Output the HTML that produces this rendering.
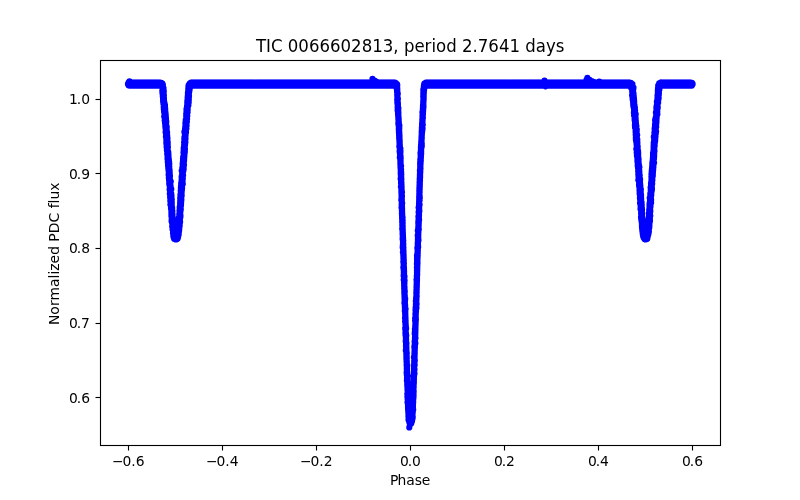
<!DOCTYPE html>
<html lang="en">
<head>
<meta charset="utf-8">
<title>TIC 0066602813, period 2.7641 days</title>
<style>
html,body{margin:0;padding:0;background:#fff;}
body{width:800px;height:500px;overflow:hidden;}
svg{display:block;}
text{font-family:"DejaVu Sans","Liberation Sans",sans-serif;font-size:13.889px;fill:#000;}
.title{font-size:17.2px;}
</style>
</head>
<body>
<svg width="800" height="500" viewBox="0 0 800 500">
<rect width="800" height="500" fill="#fff"/>
<path fill="none" stroke="#00f" stroke-width="6.2" stroke-linecap="round" d="M128 83.9h0M128 84.3h0M128.5 83h0M128.5 85.2h0M128.7 82.4h0M129.3 82.6h0M129.3 85.6h0M129.5 81.3h0M130.3 82.5h0M130.3 85.7h0M131.3 82.5h0M131.3 85.7h0M132.3 82.5h0M132.3 85.7h0M133.3 82.5h0M133.3 85.7h0M134.3 82.5h0M134.3 85.7h0M135.3 82.5h0M135.3 85.7h0M136.3 82.5h0M136.3 85.7h0M137.3 82.5h0M137.3 85.7h0M138.3 82.5h0M138.3 85.7h0M139.3 82.5h0M139.3 85.7h0M140.3 82.5h0M140.3 85.7h0M141.3 82.5h0M141.3 85.7h0M142.3 82.5h0M142.3 85.7h0M143.3 82.5h0M143.3 85.7h0M144.3 82.5h0M144.3 85.7h0M145.3 82.5h0M145.3 85.7h0M146.3 82.5h0M146.3 85.7h0M147.3 82.5h0M147.3 85.7h0M148.3 82.5h0M148.3 85.7h0M149.3 82.5h0M149.3 85.7h0M150.3 82.5h0M150.3 85.7h0M151.3 82.5h0M151.3 85.7h0M152.3 82.5h0M152.3 85.7h0M153.3 82.5h0M153.3 85.7h0M154.3 82.5h0M154.3 85.7h0M155.3 82.5h0M155.3 85.7h0M156.3 82.5h0M156.3 85.7h0M157.3 82.5h0M157.3 85.7h0M158.3 82.5h0M158.3 85.7h0M159.3 82.5h0M159.3 85.7h0M160.3 85.8h0M160.4 82.5h0M161.2 86.2h0M161.3 82.9h0M161.6 86.4h0M161.7 83.1h0M161.8 86.6h0M161.9 83.4h0M161.9 84.1h0M162.1 86.1h0M162.2 86.3h0M162.3 85.6h0M162.3 84.3h0M162.3 90.7h0M162.4 85.2h0M162.4 86.9h0M162.4 83.7h0M162.4 92.4h0M162.5 92.8h0M162.5 87.7h0M162.5 89.9h0M162.5 86.8h0M162.6 87.4h0M162.6 94.1h0M162.6 87.3h0M162.7 89.1h0M162.7 89.2h0M162.7 88.5h0M162.7 89.6h0M162.7 88.1h0M162.7 92.3h0M162.8 96.6h0M162.8 95.2h0M162.8 88.3h0M162.8 92h0M162.9 95.5h0M162.9 96h0M162.9 91.5h0M162.9 84.9h0M162.9 93.7h0M163 90.7h0M163 97.9h0M163 87.5h0M163.1 100h0M163.1 101.6h0M163.1 99.6h0M163.1 98.2h0M163.1 91.2h0M163.1 98.3h0M163.1 91.3h0M163.1 89.7h0M163.1 92.7h0M163.1 99h0M163.1 96.8h0M163.2 99.1h0M163.2 90h0M163.2 93.2h0M163.3 93.2h0M163.3 94.4h0M163.3 101.5h0M163.3 88.9h0M163.3 99.4h0M163.3 93.6h0M163.4 95.7h0M163.4 92h0M163.4 100.6h0M163.4 88.8h0M163.4 94.8h0M163.4 103.7h0M163.4 90.5h0M163.4 94h0M163.5 88.1h0M163.5 96.4h0M163.5 99.9h0M163.5 94.5h0M163.5 96.1h0M163.6 102.8h0M163.6 97.6h0M163.6 102.7h0M163.6 101.1h0M163.6 94.7h0M163.6 97.3h0M163.6 97.3h0M163.7 102h0M163.7 101.2h0M163.7 107.1h0M163.7 103.3h0M163.7 90.5h0M163.8 96.7h0M163.8 106.4h0M163.8 91.7h0M163.8 109.1h0M163.8 106.8h0M163.9 95.2h0M163.9 98h0M163.9 97.8h0M163.9 98.7h0M163.9 107.7h0M163.9 102.2h0M164 100.9h0M164 107.9h0M164 100.4h0M164 110.4h0M164 100.4h0M164 109.9h0M164 98.9h0M164.1 111.8h0M164.1 105.7h0M164.1 104.9h0M164.2 104.2h0M164.2 102.4h0M164.2 116.6h0M164.2 104h0M164.2 103.5h0M164.2 108.9h0M164.3 113.1h0M164.3 109.5h0M164.3 106.3h0M164.3 102.3h0M164.3 106h0M164.3 110.1h0M164.3 104h0M164.4 112.4h0M164.4 105.2h0M164.5 109.8h0M164.5 104.4h0M164.5 103h0M164.5 113h0M164.5 112.2h0M164.6 105.9h0M164.6 111.6h0M164.6 106.7h0M164.7 107.1h0M164.7 118.3h0M164.7 110.7h0M164.7 117.9h0M164.7 120.6h0M164.7 104.8h0M164.7 107.9h0M164.8 115.7h0M164.8 116.8h0M164.8 108.3h0M164.8 113.4h0M164.9 117.3h0M164.9 118.7h0M164.9 111.1h0M164.9 120.2h0M165 105.1h0M165 105.5h0M165 115.2h0M165 107.4h0M165 109.6h0M165 111.5h0M165 123h0M165 116.4h0M165.1 109.1h0M165.1 112h0M165.1 118.6h0M165.1 108.2h0M165.2 110.7h0M165.2 117.9h0M165.2 123.7h0M165.2 108.7h0M165.3 111h0M165.3 126.6h0M165.3 125.7h0M165.3 113.5h0M165.4 114.9h0M165.4 112.9h0M165.4 115.6h0M165.4 117.1h0M165.4 114.3h0M165.4 123.3h0M165.4 124.6h0M165.4 114h0M165.5 119.4h0M165.5 125.4h0M165.5 115.9h0M165.5 114.3h0M165.5 112.8h0M165.5 128h0M165.6 128.4h0M165.6 123.1h0M165.6 116h0M165.6 113.8h0M165.6 117.5h0M165.6 120.3h0M165.6 132.2h0M165.6 121.6h0M165.6 125.9h0M165.7 122.3h0M165.7 122.6h0M165.7 114.6h0M165.7 119.1h0M165.7 131.8h0M165.7 121.1h0M165.7 115.1h0M165.7 125.1h0M165.8 118.3h0M165.8 126.6h0M165.8 127.8h0M165.8 129.8h0M165.8 116.3h0M165.8 125.7h0M165.8 132.6h0M165.8 126.3h0M165.8 130.2h0M165.9 119.5h0M165.9 128.6h0M165.9 130.8h0M165.9 122.8h0M165.9 120.8h0M165.9 121.1h0M165.9 117.5h0M165.9 119.9h0M165.9 136.5h0M166 119.8h0M166 133h0M166 132.5h0M166 119h0M166 129.8h0M166 123.5h0M166 130.7h0M166 131.1h0M166 127.6h0M166 126.5h0M166 131.5h0M166 121.9h0M166.1 125.1h0M166.1 135.1h0M166.1 133.3h0M166.1 124.2h0M166.1 124.9h0M166.1 134.9h0M166.1 123.8h0M166.1 134.2h0M166.2 122.2h0M166.2 121.7h0M166.2 134.6h0M166.2 124.3h0M166.2 128.6h0M166.3 139h0M166.3 134.8h0M166.3 142.7h0M166.3 121.5h0M166.3 138.4h0M166.3 134.3h0M166.3 129.1h0M166.4 136.3h0M166.4 133h0M166.4 129.5h0M166.4 140.3h0M166.4 128.1h0M166.4 139.5h0M166.4 141.2h0M166.5 127h0M166.5 144.6h0M166.5 137.4h0M166.5 143.8h0M166.5 131.3h0M166.6 131h0M166.6 139.5h0M166.6 147h0M166.6 129.3h0M166.6 129.1h0M166.6 141.4h0M166.7 143.1h0M166.7 126.9h0M166.7 130.3h0M166.7 127.4h0M166.7 141.9h0M166.7 131.8h0M166.8 133.8h0M166.8 137.7h0M166.8 140.9h0M166.8 145h0M166.8 140h0M166.8 145.5h0M166.8 147.1h0M166.8 137.9h0M166.9 137.6h0M166.9 149.8h0M166.9 135.8h0M166.9 133.9h0M166.9 150.2h0M166.9 142.9h0M166.9 137.1h0M166.9 146.6h0M166.9 135.5h0M167 138.5h0M167 145.8h0M167 148.2h0M167 133.5h0M167 135.8h0M167 150.7h0M167.1 148.7h0M167.1 144.2h0M167.1 138.8h0M167.1 132.3h0M167.1 148.4h0M167.1 136.2h0M167.1 146.3h0M167.1 139.8h0M167.1 150.6h0M167.1 151h0M167.2 153.9h0M167.2 136.7h0M167.2 142.7h0M167.2 148h0M167.2 142.4h0M167.2 149.3h0M167.2 145.8h0M167.2 135.3h0M167.3 140.3h0M167.3 137h0M167.3 151.7h0M167.3 141.4h0M167.3 149.4h0M167.3 148.7h0M167.3 144.6h0M167.3 142h0M167.3 152.5h0M167.3 140.7h0M167.4 145h0M167.4 152.6h0M167.4 140.6h0M167.4 147.8h0M167.4 143.5h0M167.4 150.3h0M167.4 139h0M167.5 158.7h0M167.5 149.1h0M167.5 154.7h0M167.5 138.3h0M167.5 156.3h0M167.5 151h0M167.5 146.7h0M167.5 151.5h0M167.6 149h0M167.6 158.1h0M167.6 143.9h0M167.6 147.6h0M167.6 157.7h0M167.7 142.2h0M167.7 154.1h0M167.7 149.8h0M167.7 145.4h0M167.7 153.1h0M167.7 159.5h0M167.7 143.3h0M167.7 144.2h0M167.8 162.2h0M167.8 146.2h0M167.8 161.8h0M167.8 160.6h0M167.8 158.2h0M167.8 155.4h0M167.9 155.1h0M167.9 147.3h0M167.9 162.6h0M167.9 157h0M167.9 152.3h0M167.9 151.3h0M168 155h0M168 161.1h0M168 153.5h0M168 164.5h0M168 163.1h0M168.1 160.5h0M168.1 166.2h0M168.1 163.5h0M168.1 157.8h0M168.1 161.3h0M168.1 153.1h0M168.1 153.9h0M168.1 164.9h0M168.1 155.3h0M168.2 159.3h0M168.2 156.9h0M168.2 159h0M168.2 151.9h0M168.2 163.6h0M168.3 155.8h0M168.3 167.4h0M168.3 168.6h0M168.3 154.3h0M168.3 157.6h0M168.3 166.7h0M168.3 156.6h0M168.3 152.2h0M168.4 169.1h0M168.4 153.5h0M168.4 156.1h0M168.4 156.6h0M168.4 154.5h0M168.4 163.4h0M168.4 167.7h0M168.5 165.5h0M168.5 155.7h0M168.5 162.1h0M168.5 157.4h0M168.5 165.8h0M168.5 159.7h0M168.5 170.3h0M168.6 164.3h0M168.6 159h0M168.6 174.8h0M168.7 161.4h0M168.7 161.2h0M168.7 158.4h0M168.7 162.6h0M168.7 160.1h0M168.7 165.3h0M168.7 166.2h0M168.7 164.6h0M168.8 177.8h0M168.8 170.7h0M168.8 172.6h0M168.8 167h0M168.8 169h0M168.8 159.7h0M168.8 164.2h0M168.8 164.9h0M168.8 173.3h0M168.8 168.2h0M168.8 165.7h0M168.9 160.2h0M168.9 171.6h0M168.9 171.3h0M168.9 169.8h0M168.9 172.8h0M168.9 169.3h0M168.9 173h0M169 169.4h0M169 168.1h0M169 167.4h0M169 172.6h0M169 173.6h0M169 176.3h0M169 178.2h0M169 175.8h0M169 167.1h0M169 178.9h0M169.1 174.1h0M169.1 161.8h0M169.1 175.4h0M169.1 177.1h0M169.1 175h0M169.1 163h0M169.1 180.2h0M169.2 167.7h0M169.2 171.2h0M169.2 179.3h0M169.2 170.8h0M169.2 168.5h0M169.2 182.9h0M169.2 173.9h0M169.2 175.2h0M169.2 174.2h0M169.3 171h0M169.3 166.5h0M169.3 163.8h0M169.3 176.1h0M169.3 171.8h0M169.3 184.5h0M169.4 170.6h0M169.4 178.7h0M169.4 177.4h0M169.4 177.3h0M169.4 178.8h0M169.4 176.7h0M169.4 178.1h0M169.5 181.3h0M169.5 175h0M169.5 172.2h0M169.5 174.5h0M169.5 169.7h0M169.6 170.1h0M169.6 178.5h0M169.6 179.8h0M169.6 189.5h0M169.6 183.8h0M169.7 172.2h0M169.7 173.4h0M169.7 185.6h0M169.7 185.2h0M169.7 179.8h0M169.7 183h0M169.7 184.6h0M169.7 177.7h0M169.7 177h0M169.8 184.1h0M169.8 182.6h0M169.8 190.3h0M169.8 180.4h0M169.8 193.8h0M169.8 181.3h0M169.8 182.2h0M169.8 180.9h0M169.8 187h0M169.9 183.5h0M169.9 185.8h0M169.9 179.3h0M169.9 180.9h0M169.9 187.4h0M169.9 187.3h0M169.9 186.5h0M169.9 176.6h0M169.9 186.9h0M170 180.7h0M170 194.5h0M170 189.7h0M170 180.2h0M170 175.9h0M170 193.4h0M170.1 182.6h0M170.1 182h0M170.1 197.3h0M170.1 183.3h0M170.1 188.3h0M170.2 185h0M170.2 195.7h0M170.2 185.5h0M170.2 192h0M170.2 181.9h0M170.2 191.7h0M170.2 186.5h0M170.2 192.9h0M170.3 188.7h0M170.3 191.6h0M170.3 183.7h0M170.3 198.6h0M170.3 189h0M170.3 196.5h0M170.3 184.1h0M170.3 200.9h0M170.3 195.5h0M170.3 192.6h0M170.4 188.8h0M170.4 194.2h0M170.4 190.5h0M170.4 186.1h0M170.4 189.8h0M170.4 191.5h0M170.4 204.6h0M170.4 194.7h0M170.4 185h0M170.5 199.9h0M170.5 194.6h0M170.5 196.1h0M170.5 188.5h0M170.5 200.5h0M170.5 191h0M170.6 186.2h0M170.6 200h0M170.6 197h0M170.6 192.4h0M170.6 192.2h0M170.7 187.7h0M170.7 199h0M170.7 191h0M170.7 187.7h0M170.7 203.7h0M170.7 197.7h0M170.7 193.2h0M170.7 191.2h0M170.7 202.6h0M170.7 204.8h0M170.8 200.4h0M170.8 200.8h0M170.8 190.5h0M170.8 181.6h0M170.8 200.1h0M170.8 188.1h0M170.9 205.8h0M170.9 194.9h0M170.9 197.5h0M170.9 206.6h0M170.9 189.9h0M171 208.5h0M171 204.2h0M171 193h0M171 204.9h0M171 203h0M171.1 199.3h0M171.1 198.4h0M171.1 195.4h0M171.1 196.1h0M171.1 205.4h0M171.1 194h0M171.2 201.7h0M171.2 198.1h0M171.2 203.2h0M171.2 201.9h0M171.2 199.4h0M171.3 198.8h0M171.3 208h0M171.3 210.1h0M171.3 205.6h0M171.3 208.8h0M171.3 196.3h0M171.3 193.8h0M171.3 189.2h0M171.3 198.2h0M171.4 211.9h0M171.4 216h0M171.4 211h0M171.4 213h0M171.4 208.3h0M171.4 212.2h0M171.4 214.2h0M171.4 210.4h0M171.4 203.2h0M171.5 215h0M171.5 196.8h0M171.5 202.2h0M171.5 195.6h0M171.5 201.2h0M171.5 204.1h0M171.5 214.5h0M171.5 214.5h0M171.5 213.7h0M171.5 197.7h0M171.5 205.9h0M171.6 205.2h0M171.6 209.5h0M171.6 216.5h0M171.6 206.4h0M171.6 216.5h0M171.6 213.6h0M171.6 220.5h0M171.6 201.5h0M171.6 221.4h0M171.7 204.6h0M171.7 207.7h0M171.7 211.9h0M171.7 203.7h0M171.7 215.7h0M171.7 211.7h0M171.7 219.4h0M171.7 206.9h0M171.7 201.7h0M171.7 217.5h0M171.7 209.6h0M171.7 202.8h0M171.7 215.2h0M171.8 217.3h0M171.8 199.5h0M171.8 217.9h0M171.8 217.4h0M171.8 212.6h0M171.8 210.1h0M171.8 202.4h0M171.8 206.1h0M171.9 207.3h0M171.9 218.8h0M171.9 216.9h0M171.9 216h0M171.9 207.3h0M171.9 206.8h0M171.9 213.2h0M172 212.5h0M172 218.5h0M172 208.5h0M172 209.3h0M172.1 210.4h0M172.1 221.3h0M172.1 207.6h0M172.1 215.7h0M172.1 220.7h0M172.1 211.2h0M172.1 218.5h0M172.1 223h0M172.1 214.7h0M172.1 209h0M172.1 213h0M172.2 221.8h0M172.2 210.8h0M172.2 213.4h0M172.2 209.1h0M172.2 226.4h0M172.3 224.1h0M172.4 222.5h0M172.4 226.9h0M172.4 222h0M172.4 223.3h0M172.4 211.3h0M172.5 215.2h0M172.5 218.2h0M172.5 217.8h0M172.5 214h0M172.5 221.7h0M172.5 229.2h0M172.5 216.7h0M172.6 221h0M172.6 226h0M172.6 222h0M172.6 218.8h0M172.6 223.8h0M172.6 225.3h0M172.6 219.8h0M172.6 227.9h0M172.7 220.1h0M172.7 219.5h0M172.7 224.9h0M172.7 220.3h0M172.8 223.4h0M172.8 219.1h0M172.8 225.9h0M172.9 229.7h0M172.9 224.5h0M172.9 225.5h0M172.9 222.3h0M172.9 227.3h0M172.9 222.9h0M172.9 230.1h0M172.9 228.5h0M172.9 228.3h0M172.9 224.8h0M173 228h0M173 220.1h0M173 229.5h0M173 226.4h0M173 233.3h0M173 225.2h0M173.1 225.7h0M173.1 231.5h0M173.1 230.5h0M173.1 231.8h0M173.2 228.8h0M173.2 227.7h0M173.2 230.9h0M173.3 224.4h0M173.3 226.8h0M173.3 236h0M173.3 223.6h0M173.3 228.7h0M173.3 231.9h0M173.3 224h0M173.4 231.3h0M173.5 230.7h0M173.5 236.4h0M173.5 232.5h0M173.6 237.2h0M173.6 227.6h0M173.6 227.2h0M173.6 235.6h0M173.6 232.6h0M173.6 233.7h0M173.7 235.2h0M173.7 229.1h0M173.7 232.7h0M173.8 233h0M173.8 233.4h0M173.9 237.7h0M173.9 232.8h0M173.9 234.3h0M173.9 234.6h0M173.9 230h0M174 233.9h0M174 231.2h0M174 231.9h0M174 230.3h0M174.1 235.5h0M174.1 235h0M174.1 238h0M174.1 234.2h0M174.1 238.8h0M174.3 234.6h0M174.4 238.3h0M174.5 236.7h0M174.8 238.9h0M174.9 235.7h0M175.1 235.8h0M175.1 235.1h0M175.3 239.1h0M175.5 236h0M175.6 239.3h0M175.9 239.4h0M176 236.1h0M176.2 235.9h0M176.4 239.2h0M176.7 239.1h0M176.7 235.8h0M177.1 235.6h0M177.1 238.9h0M177.1 237.8h0M177.4 236.6h0M177.4 232.2h0M177.5 235.2h0M177.5 238.3h0M177.5 235.6h0M177.6 231.5h0M177.6 234.2h0M177.6 234.9h0M177.6 234.8h0M177.7 234.5h0M177.7 238.6h0M177.8 233.8h0M177.8 237.4h0M177.9 229.4h0M177.9 233.8h0M178 229.8h0M178 233.1h0M178 235.9h0M178 237.2h0M178 233.5h0M178.1 231.6h0M178.1 228.2h0M178.1 235.1h0M178.1 230.9h0M178.2 236.4h0M178.3 228.8h0M178.3 232.5h0M178.4 233.6h0M178.4 233h0M178.4 226.4h0M178.4 228.6h0M178.5 229h0M178.5 230.6h0M178.5 232.3h0M178.5 227.3h0M178.5 227.6h0M178.5 230.2h0M178.5 232.6h0M178.5 229.4h0M178.6 231.8h0M178.7 222.6h0M178.7 229.2h0M178.7 225.9h0M178.7 217.9h0M178.7 234.4h0M178.9 231.2h0M178.9 231.9h0M178.9 230.6h0M178.9 228h0M178.9 221.4h0M178.9 225.5h0M179 225.4h0M179 219.5h0M179 229.9h0M179 227.7h0M179 225h0M179.1 221.9h0M179.1 220.3h0M179.1 224h0M179.2 225.2h0M179.2 227.2h0M179.2 224.4h0M179.2 223.4h0M179.2 230.3h0M179.2 226.2h0M179.2 223.1h0M179.3 216.5h0M179.3 222.8h0M179.3 218.4h0M179.3 228.3h0M179.3 214.6h0M179.4 222.3h0M179.4 219.1h0M179.4 220.8h0M179.4 222.4h0M179.4 226.7h0M179.4 226.8h0M179.4 213.6h0M179.4 227.2h0M179.4 218.7h0M179.4 217.2h0M179.4 220.1h0M179.4 224.4h0M179.4 224.9h0M179.4 217.9h0M179.5 216.9h0M179.5 210.6h0M179.5 224.6h0M179.6 220.4h0M179.6 223.8h0M179.6 219.2h0M179.6 221.2h0M179.6 211.4h0M179.7 211.6h0M179.7 207.2h0M179.7 219.8h0M179.7 225.8h0M179.7 209.9h0M179.7 212.1h0M179.7 212.8h0M179.7 213.1h0M179.7 213.8h0M179.7 208h0M179.7 212.3h0M179.7 221.3h0M179.8 211.8h0M179.8 217.7h0M179.8 218.7h0M179.8 214.7h0M179.8 210.4h0M179.8 223.5h0M179.8 219.6h0M179.8 209.5h0M179.8 215.5h0M179.9 216.2h0M179.9 208.8h0M179.9 220.8h0M179.9 216.7h0M179.9 216h0M179.9 223.1h0M179.9 213.6h0M180 215.7h0M180 207.5h0M180.1 212.2h0M180.1 214.3h0M180.1 221.7h0M180.1 222.1h0M180.1 208.3h0M180.1 214.4h0M180.1 210.2h0M180.1 206.4h0M180.1 202.8h0M180.1 217.6h0M180.1 204.3h0M180.1 218.2h0M180.2 213.3h0M180.2 200.3h0M180.2 211.1h0M180.2 208.2h0M180.2 202.4h0M180.2 204.2h0M180.2 204.7h0M180.2 212.8h0M180.2 213.9h0M180.2 198h0M180.3 198.2h0M180.3 203.2h0M180.3 202.1h0M180.3 207.2h0M180.3 202.8h0M180.3 200.4h0M180.3 205.3h0M180.3 208.1h0M180.3 209.2h0M180.3 215.3h0M180.4 215h0M180.4 217.1h0M180.4 199.2h0M180.4 200.1h0M180.4 195.2h0M180.4 201.3h0M180.4 204.7h0M180.4 208.7h0M180.4 207.5h0M180.5 205.5h0M180.5 216h0M180.5 194.3h0M180.5 210.9h0M180.5 211.2h0M180.5 209.9h0M180.5 198.4h0M180.5 203.6h0M180.5 196.3h0M180.6 206.7h0M180.6 196.4h0M180.6 204.1h0M180.6 205.1h0M180.6 205.8h0M180.6 199.5h0M180.6 206.2h0M180.6 201.8h0M180.6 209.6h0M180.6 203.8h0M180.6 196h0M180.7 195.3h0M180.7 206.8h0M180.7 199.8h0M180.7 190.8h0M180.7 202.4h0M180.7 193.6h0M180.7 199h0M180.8 193h0M180.8 201h0M180.8 200.8h0M180.8 194.8h0M180.8 209.3h0M180.8 194.5h0M180.8 201.4h0M180.9 191.7h0M180.9 199.1h0M180.9 197.5h0M180.9 188.3h0M180.9 206.1h0M180.9 197.2h0M180.9 187.5h0M180.9 203.2h0M180.9 188.1h0M180.9 191.3h0M181 205.5h0M181 186h0M181 197.5h0M181 188.5h0M181 186.9h0M181 190.5h0M181.1 185.5h0M181.1 201.6h0M181.1 198.6h0M181.1 189.5h0M181.1 203.5h0M181.1 194h0M181.1 191.9h0M181.1 191.9h0M181.1 196h0M181.2 196.8h0M181.2 198.1h0M181.2 183.1h0M181.2 191.1h0M181.2 183.8h0M181.2 197.3h0M181.2 194.8h0M181.3 183.6h0M181.3 189h0M181.3 200.9h0M181.3 184.7h0M181.3 186.1h0M181.3 186.4h0M181.4 193.5h0M181.4 199.6h0M181.4 196.8h0M181.4 195.4h0M181.4 190.8h0M181.4 189.8h0M181.4 189.8h0M181.4 191.7h0M181.5 190.3h0M181.5 186.3h0M181.5 194h0M181.5 187.2h0M181.5 182.7h0M181.6 185.1h0M181.6 188.6h0M181.6 180.8h0M181.6 193h0M181.6 187.3h0M181.6 183.3h0M181.6 192.4h0M181.6 179.9h0M181.6 193.3h0M181.6 177.1h0M181.6 185.6h0M181.6 188.9h0M181.6 192.8h0M181.6 192.4h0M181.7 176.5h0M181.7 170.8h0M181.7 195.6h0M181.7 179.3h0M181.8 175.9h0M181.8 189.2h0M181.8 180.4h0M181.8 182.4h0M181.8 178.9h0M181.9 181.3h0M181.9 179.6h0M181.9 190.2h0M181.9 186.9h0M181.9 179.8h0M181.9 187.7h0M181.9 184.3h0M181.9 181.1h0M182 176.1h0M182 180.1h0M182 182h0M182.1 177.3h0M182.1 185.1h0M182.1 182.1h0M182.1 188h0M182.1 183.5h0M182.2 173.3h0M182.2 173.5h0M182.2 172.3h0M182.2 177.6h0M182.2 176.4h0M182.2 173h0M182.2 172h0M182.2 180.4h0M182.2 171.7h0M182.2 180.9h0M182.3 174.1h0M182.3 179.2h0M182.3 167.9h0M182.3 172.5h0M182.3 181.6h0M182.4 173.8h0M182.4 176.7h0M182.4 184.8h0M182.4 182.3h0M182.4 173.1h0M182.4 184.4h0M182.5 174.8h0M182.5 182.9h0M182.5 178h0M182.5 174.4h0M182.5 170.1h0M182.5 170.1h0M182.6 164.3h0M182.6 169.6h0M182.6 168.2h0M182.6 178.3h0M182.6 177.9h0M182.6 181.7h0M182.7 177.5h0M182.7 172.8h0M182.7 167.4h0M182.7 177h0M182.7 175.6h0M182.7 174h0M182.8 179h0M182.8 171.6h0M182.8 184.1h0M182.8 175.1h0M182.8 171.3h0M182.8 166h0M182.8 162.5h0M182.8 166.9h0M182.8 169.6h0M182.8 167.5h0M182.8 178.4h0M182.9 161.7h0M182.9 166.4h0M182.9 172.1h0M182.9 165.6h0M182.9 174.3h0M182.9 170.4h0M182.9 174.9h0M182.9 175.7h0M182.9 166.5h0M183 158.8h0M183 165.1h0M183 161.2h0M183 164.1h0M183 160.9h0M183 169.4h0M183.1 170.8h0M183.1 161.4h0M183.1 175.3h0M183.1 163.9h0M183.2 158.4h0M183.2 163h0M183.2 168.4h0M183.2 156.9h0M183.2 162.8h0M183.2 159.7h0M183.2 171.2h0M183.2 159.7h0M183.2 168.4h0M183.2 162h0M183.3 169.3h0M183.3 158.1h0M183.3 158.6h0M183.3 156.9h0M183.3 164.4h0M183.3 165.8h0M183.3 160.1h0M183.3 163.4h0M183.3 163.7h0M183.3 168.9h0M183.4 160.2h0M183.4 167.2h0M183.4 170.4h0M183.4 166.2h0M183.4 167.6h0M183.4 160.4h0M183.5 159.4h0M183.5 163.5h0M183.5 152.5h0M183.5 152.8h0M183.5 163.2h0M183.5 157.6h0M183.5 152.4h0M183.5 164.9h0M183.6 156.4h0M183.7 150.4h0M183.7 162.2h0M183.7 155.3h0M183.7 166.8h0M183.7 150.1h0M183.7 165.3h0M183.7 155.7h0M183.7 148h0M183.7 169h0M183.7 151.3h0M183.8 154.6h0M183.8 155.6h0M183.8 154.9h0M183.8 152.2h0M183.8 162.4h0M183.8 159.2h0M183.8 149.5h0M183.9 160.9h0M183.9 161.7h0M183.9 154.1h0M183.9 147.5h0M183.9 151.7h0M184 153.8h0M184 164.8h0M184 156.6h0M184.1 158.1h0M184.1 160.5h0M184.1 150.6h0M184.1 145h0M184.1 147.7h0M184.1 147.2h0M184.1 153.1h0M184.1 153.7h0M184.1 142.4h0M184.1 157.8h0M184.1 157.3h0M184.1 154.1h0M184.2 144.5h0M184.2 156h0M184.2 145.3h0M184.2 145.4h0M184.2 157.4h0M184.2 158.8h0M184.2 142.1h0M184.2 149h0M184.3 139.2h0M184.3 142.7h0M184.3 147h0M184.3 154.7h0M184.3 149.3h0M184.3 155.2h0M184.3 151.7h0M184.4 149.3h0M184.4 137.3h0M184.4 156.1h0M184.4 131.9h0M184.4 148.5h0M184.4 154.5h0M184.4 153.2h0M184.4 146.2h0M184.5 147.4h0M184.5 150h0M184.5 144.1h0M184.6 148.5h0M184.6 142.5h0M184.6 141.8h0M184.6 149.7h0M184.6 145.7h0M184.6 153.4h0M184.6 132.8h0M184.6 146.9h0M184.6 143.5h0M184.6 137.5h0M184.7 140.9h0M184.7 143.3h0M184.7 146.6h0M184.7 148.2h0M184.7 139.7h0M184.7 140.5h0M184.7 139h0M184.7 138.6h0M184.7 150.8h0M184.8 144.8h0M184.8 151.5h0M184.8 136.3h0M184.8 146.4h0M184.8 143h0M184.8 139.4h0M184.8 131.5h0M184.8 140.9h0M184.8 131h0M184.8 143.3h0M184.8 152.1h0M184.8 150.9h0M184.8 141.6h0M184.9 135.6h0M184.9 141.3h0M184.9 133.7h0M184.9 135.3h0M184.9 146.1h0M184.9 137.6h0M185 137.9h0M185 140.5h0M185 141.3h0M185 149h0M185 145.6h0M185 143.8h0M185 144.5h0M185 136.1h0M185 138.2h0M185 131.3h0M185 131.5h0M185 139.8h0M185 129.2h0M185.1 144h0M185.1 130.1h0M185.1 133.2h0M185.2 135.4h0M185.2 134.5h0M185.2 128.2h0M185.2 138.3h0M185.2 140.1h0M185.2 136.7h0M185.2 140.3h0M185.2 136.9h0M185.2 131.7h0M185.3 126.6h0M185.3 136.5h0M185.3 134.2h0M185.3 133.8h0M185.3 132.5h0M185.4 130.6h0M185.4 133.5h0M185.4 134.2h0M185.4 142.2h0M185.4 129.3h0M185.4 136.5h0M185.4 123.7h0M185.4 134.7h0M185.4 123.3h0M185.4 130h0M185.5 127.7h0M185.5 127.3h0M185.5 138.1h0M185.5 135.7h0M185.5 134.9h0M185.5 138.9h0M185.5 133.1h0M185.6 123.8h0M185.6 127.1h0M185.6 135.1h0M185.6 123.1h0M185.6 121.4h0M185.7 120.1h0M185.7 122.9h0M185.7 127h0M185.7 123.3h0M185.8 128.9h0M185.8 125.3h0M185.8 127.2h0M185.8 124.4h0M185.8 129.8h0M185.9 129.6h0M185.9 129.1h0M185.9 122.6h0M185.9 130.4h0M186 132.5h0M186 132.2h0M186 128.5h0M186 131h0M186 126.2h0M186 119.8h0M186.1 126.6h0M186.1 124.9h0M186.2 124h0M186.2 122.1h0M186.2 125h0M186.2 122.6h0M186.2 114h0M186.2 116.2h0M186.2 126.2h0M186.2 121.4h0M186.2 120.9h0M186.3 125.7h0M186.3 119h0M186.3 127.8h0M186.3 117.5h0M186.3 120.2h0M186.3 128.3h0M186.3 118.5h0M186.4 128.5h0M186.4 121.7h0M186.4 117h0M186.4 120.5h0M186.4 124.6h0M186.4 118.1h0M186.4 125.8h0M186.4 116.2h0M186.4 117.8h0M186.5 124.2h0M186.5 113.7h0M186.5 120.7h0M186.5 111.8h0M186.5 113.4h0M186.5 115.1h0M186.5 109.2h0M186.5 117.8h0M186.5 110.9h0M186.5 118.3h0M186.5 112.2h0M186.6 120.9h0M186.6 125.5h0M186.6 117.4h0M186.6 122.2h0M186.6 114.7h0M186.6 119.7h0M186.6 111h0M186.6 117h0M186.6 119.3h0M186.7 111.7h0M186.7 112.8h0M186.7 115.4h0M186.7 112.7h0M186.7 111.4h0M186.8 118.6h0M186.8 110.1h0M186.8 119.4h0M186.8 116.7h0M186.8 115.6h0M186.8 115.4h0M186.8 114.5h0M186.8 114.9h0M186.9 114.3h0M186.9 121.7h0M186.9 113.2h0M186.9 109.5h0M187 106.2h0M187 108.7h0M187 109.1h0M187 107.8h0M187 110.6h0M187 107.5h0M187 116.5h0M187.1 107.4h0M187.1 110.2h0M187.1 111.4h0M187.1 106.3h0M187.1 113h0M187.1 119h0M187.1 113.7h0M187.1 109.2h0M187.2 112.9h0M187.2 106.6h0M187.3 107.2h0M187.3 115.8h0M187.3 103.5h0M187.3 105.7h0M187.3 107h0M187.3 102.2h0M187.3 102.5h0M187.3 107.8h0M187.3 101.7h0M187.4 100.7h0M187.4 108.2h0M187.4 109.8h0M187.4 110.6h0M187.5 105.4h0M187.6 112.2h0M187.6 99.7h0M187.6 108.6h0M187.6 102.6h0M187.6 104.3h0M187.6 104.5h0M187.6 104.6h0M187.6 108.1h0M187.6 101h0M187.6 97.8h0M187.7 109.8h0M187.7 104.1h0M187.7 100.9h0M187.7 98.9h0M187.7 96.9h0M187.8 100.2h0M187.8 100.7h0M187.8 99.4h0M187.8 96h0M187.8 106.7h0M187.9 95h0M187.9 98.7h0M187.9 98.3h0M187.9 103.1h0M187.9 94.7h0M187.9 97.3h0M187.9 92.9h0M188 105h0M188 95.5h0M188 105.3h0M188 103.2h0M188 92.2h0M188.1 93.9h0M188.1 101.3h0M188.1 104h0M188.1 106h0M188.2 95.9h0M188.2 103.7h0M188.2 103.6h0M188.3 89.8h0M188.3 93h0M188.3 88.6h0M188.3 97.6h0M188.3 101.6h0M188.3 93.8h0M188.3 91.5h0M188.3 96.7h0M188.4 90.2h0M188.4 87h0M188.4 93.6h0M188.4 105.2h0M188.4 100.1h0M188.4 98.7h0M188.4 92h0M188.4 98.1h0M188.4 91.9h0M188.5 91h0M188.5 96.8h0M188.5 85.8h0M188.5 92.6h0M188.6 89.9h0M188.6 94.2h0M188.6 99.5h0M188.6 87.9h0M188.6 93.4h0M188.6 94.2h0M188.7 102.4h0M188.7 101.8h0M188.7 97.1h0M188.7 85.1h0M188.7 95.1h0M188.8 96.1h0M188.8 98h0M188.8 99.1h0M188.8 100h0M188.8 94.6h0M188.9 89.5h0M188.9 91h0M189 90.4h0M189 96.4h0M189 92.2h0M189 95.6h0M189 90.5h0M189 89h0M189.1 91.4h0M189.1 92.5h0M189.1 88.3h0M189.2 88.2h0M189.2 86.7h0M189.3 84.6h0M189.3 86.3h0M189.3 87.6h0M189.3 85.4h0M189.3 87.2h0M189.3 89h0M189.4 87.5h0M189.4 90.8h0M189.6 89.4h0M189.7 88.8h0M189.7 88h0M189.7 83.5h0M189.7 84.4h0M189.7 84h0M190 86.9h0M190.1 86.5h0M190.2 83.3h0M190.3 83h0M190.4 86.3h0M190.6 82.8h0M190.8 86.1h0M191 82.6h0M191 85.9h0M192 85.7h0M192 82.5h0M193 85.7h0M193 82.5h0M194 85.7h0M194 82.5h0M195 85.7h0M195 82.5h0M196 85.7h0M196 82.5h0M197 85.7h0M197 82.5h0M198 85.7h0M198 82.5h0M199 85.7h0M199 82.5h0M200 85.7h0M200 82.5h0M201 85.7h0M201 82.5h0M202 85.7h0M202 82.5h0M203 85.7h0M203 82.5h0M204 85.7h0M204 82.5h0M205 85.7h0M205 82.5h0M206 85.7h0M206 82.5h0M207 85.7h0M207 82.5h0M208 85.7h0M208 82.5h0M209 85.7h0M209 82.5h0M210 85.7h0M210 82.5h0M211 85.7h0M211 82.5h0M212 85.7h0M212 82.5h0M213 85.7h0M213 82.5h0M214 85.7h0M214 82.5h0M215 85.7h0M215 82.5h0M216 85.7h0M216 82.5h0M217 85.7h0M217 82.5h0M218 85.7h0M218 82.5h0M219 85.7h0M219 82.5h0M220 85.7h0M220 82.5h0M221 85.7h0M221 82.5h0M222 85.7h0M222 82.5h0M223 85.7h0M223 82.5h0M224 85.7h0M224 82.5h0M225 85.7h0M225 82.5h0M226 85.7h0M226 82.5h0M227 85.7h0M227 82.5h0M228 85.7h0M228 82.5h0M229 85.7h0M229 82.5h0M230 85.7h0M230 82.5h0M231 85.7h0M231 82.5h0M232 85.7h0M232 82.5h0M233 85.7h0M233 82.5h0M234 85.7h0M234 82.5h0M235 85.7h0M235 82.5h0M236 85.7h0M236 82.5h0M237 85.7h0M237 82.5h0M238 85.7h0M238 82.5h0M239 85.7h0M239 82.5h0M240 85.7h0M240 82.5h0M241 85.7h0M241 82.5h0M242 85.7h0M242 82.5h0M243 85.7h0M243 82.5h0M244 85.7h0M244 82.5h0M245 85.7h0M245 82.5h0M246 85.7h0M246 82.5h0M247 85.7h0M247 82.5h0M248 85.7h0M248 82.5h0M249 85.7h0M249 82.5h0M250 85.7h0M250 82.5h0M251 85.7h0M251 82.5h0M252 85.7h0M252 82.5h0M253 85.7h0M253 82.5h0M254 85.7h0M254 82.5h0M255 85.7h0M255 82.5h0M256 85.7h0M256 82.5h0M257 85.7h0M257 82.5h0M258 85.7h0M258 82.5h0M259 85.7h0M259 82.5h0M260 85.7h0M260 82.5h0M261 85.7h0M261 82.5h0M262 85.7h0M262 82.5h0M263 85.7h0M263 82.5h0M264 85.7h0M264 82.5h0M265 85.7h0M265 82.5h0M266 85.7h0M266 82.5h0M267 85.7h0M267 82.5h0M268 85.7h0M268 82.5h0M269 85.7h0M269 82.5h0M270 85.7h0M270 82.5h0M271 85.7h0M271 82.5h0M272 85.7h0M272 82.5h0M273 85.7h0M273 82.5h0M274 85.7h0M274 82.5h0M275 85.7h0M275 82.5h0M276 85.7h0M276 82.5h0M277 85.7h0M277 82.5h0M278 85.7h0M278 82.5h0M279 85.7h0M279 82.5h0M280 85.7h0M280 82.5h0M281 85.7h0M281 82.5h0M282 85.7h0M282 82.5h0M283 85.7h0M283 82.5h0M284 85.7h0M284 82.5h0M285 85.7h0M285 82.5h0M286 85.7h0M286 82.5h0M287 85.7h0M287 82.5h0M288 85.7h0M288 82.5h0M289 85.7h0M289 82.5h0M290 85.7h0M290 82.5h0M291 85.7h0M291 82.5h0M292 85.7h0M292 82.5h0M293 85.7h0M293 82.5h0M294 85.7h0M294 82.5h0M295 85.7h0M295 82.5h0M296 85.7h0M296 82.5h0M297 85.7h0M297 82.5h0M298 85.7h0M298 82.5h0M299 85.7h0M299 82.5h0M300 85.7h0M300 82.5h0M301 85.7h0M301 82.5h0M302 85.7h0M302 82.5h0M303 85.7h0M303 82.5h0M304 85.7h0M304 82.5h0M305 85.7h0M305 82.5h0M306 85.7h0M306 82.5h0M307 85.7h0M307 82.5h0M308 85.7h0M308 82.5h0M309 85.7h0M309 82.5h0M310 85.7h0M310 82.5h0M311 85.7h0M311 82.5h0M312 85.7h0M312 82.5h0M313 85.7h0M313 82.5h0M314 85.7h0M314 82.5h0M315 85.7h0M315 82.5h0M316 85.7h0M316 82.5h0M317 85.7h0M317 82.5h0M318 85.7h0M318 82.5h0M319 85.7h0M319 82.5h0M320 85.7h0M320 82.5h0M321 85.7h0M321 82.5h0M322 85.7h0M322 82.5h0M323 85.7h0M323 82.5h0M324 85.7h0M324 82.5h0M325 85.7h0M325 82.5h0M326 85.7h0M326 82.5h0M327 85.7h0M327 82.5h0M328 85.7h0M328 82.5h0M329 85.7h0M329 82.5h0M330 85.7h0M330 82.5h0M331 85.7h0M331 82.5h0M332 85.7h0M332 82.5h0M333 85.7h0M333 82.5h0M334 85.7h0M334 82.5h0M335 85.7h0M335 82.5h0M336 85.7h0M336 82.5h0M337 85.7h0M337 82.5h0M338 85.7h0M338 82.5h0M339 85.7h0M339 82.5h0M340 85.7h0M340 82.5h0M341 85.7h0M341 82.5h0M342 85.7h0M342 82.5h0M343 85.7h0M343 82.5h0M344 85.7h0M344 82.5h0M345 85.7h0M345 82.5h0M346 85.7h0M346 82.5h0M347 85.7h0M347 82.5h0M348 85.7h0M348 82.5h0M349 85.7h0M349 82.5h0M350 85.7h0M350 82.5h0M351 85.7h0M351 82.5h0M352 85.7h0M352 82.5h0M353 85.7h0M353 82.5h0M354 85.7h0M354 82.5h0M355 85.7h0M355 82.5h0M356 85.7h0M356 82.5h0M357 85.7h0M357 82.5h0M358 85.7h0M358 82.5h0M359 82.5h0M359 85.7h0M360 82.5h0M360 85.7h0M361 82.5h0M361 85.7h0M362 82.5h0M362 85.7h0M363 82.5h0M363 85.7h0M364 82.5h0M364 85.7h0M365 82.5h0M365 85.7h0M366 82.5h0M366 85.7h0M367 82.5h0M367 85.7h0M368 82.5h0M368 85.7h0M369 82.5h0M369 85.7h0M370 82.5h0M370 85.7h0M371 82.5h0M371 85.7h0M372 82.5h0M372 85.7h0M372.5 78.8h0M373 82.5h0M373 85.7h0M374 82.5h0M374 85.7h0M374.6 80.6h0M375 82.5h0M375 85.7h0M376 82.5h0M376 85.7h0M376.2 81.7h0M377 82.5h0M377 85.7h0M378 82.5h0M378 85.7h0M379 82.5h0M379 85.7h0M380 82.5h0M380 85.7h0M381 82.5h0M381 85.7h0M382 82.5h0M382 85.7h0M383 82.5h0M383 85.7h0M384 82.5h0M384 85.7h0M385 82.5h0M385 85.7h0M386 82.5h0M386 85.7h0M387 82.5h0M387 85.7h0M388 82.5h0M388 85.7h0M389 82.5h0M389 85.7h0M390 82.5h0M390 85.7h0M391 82.5h0M391 85.7h0M392 82.5h0M392 85.7h0M393 82.5h0M393 85.7h0M394 82.5h0M394 85.7h0M395 85.9h0M395 82.6h0M395.8 86.4h0M395.8 83.1h0M396.1 83.3h0M396.2 86.6h0M396.3 83.6h0M396.4 86.9h0M396.5 87.3h0M396.6 84h0M396.6 87.5h0M396.7 84.7h0M396.8 88.1h0M396.8 88.5h0M396.8 89.1h0M396.9 85.9h0M396.9 85.6h0M397 86.7h0M397 88.8h0M397 90.1h0M397 86.4h0M397 89.3h0M397 90.5h0M397.1 87.9h0M397.1 88.3h0M397.1 92h0M397.1 84.4h0M397.2 87.6h0M397.2 89.7h0M397.2 99.8h0M397.2 92.8h0M397.2 91.7h0M397.2 89.9h0M397.2 90.9h0M397.2 87.2h0M397.2 91.3h0M397.2 94.8h0M397.3 92.4h0M397.3 93.2h0M397.3 92h0M397.3 93.7h0M397.3 88.7h0M397.3 90.4h0M397.3 102.4h0M397.3 96.8h0M397.3 96.4h0M397.3 93.2h0M397.3 89.4h0M397.3 85.1h0M397.3 95.4h0M397.3 90.7h0M397.4 94.1h0M397.4 94.5h0M397.4 96.8h0M397.4 97.7h0M397.4 92.4h0M397.4 97.3h0M397.4 91.3h0M397.4 101.1h0M397.4 94.7h0M397.4 92.7h0M397.4 93.4h0M397.4 95.3h0M397.4 98.2h0M397.4 95.2h0M397.4 98.8h0M397.4 91.6h0M397.4 101.9h0M397.4 96.3h0M397.4 95.6h0M397.4 98.3h0M397.5 96h0M397.5 98.5h0M397.5 99.7h0M397.5 99.2h0M397.5 97.1h0M397.5 100.1h0M397.5 100.7h0M397.5 94.2h0M397.5 95.9h0M397.5 101.5h0M397.5 97.8h0M397.5 103.1h0M397.5 100.4h0M397.5 100.6h0M397.5 97.5h0M397.6 101.5h0M397.6 104.4h0M397.6 110.3h0M397.6 99.2h0M397.6 107.5h0M397.6 100.2h0M397.6 99.6h0M397.6 102.4h0M397.6 104.1h0M397.6 103.5h0M397.6 102.7h0M397.7 102.8h0M397.7 101.1h0M397.7 105.2h0M397.7 101.8h0M397.7 105.6h0M397.8 104h0M397.8 105.4h0M397.8 110h0M397.8 106.4h0M397.8 93.8h0M397.8 108.1h0M397.8 104.8h0M397.8 108.8h0M397.8 106h0M397.8 106.7h0M397.9 106.3h0M397.9 103.2h0M397.9 106.9h0M397.9 98.8h0M397.9 103.5h0M397.9 107.3h0M397.9 104.3h0M397.9 104.7h0M397.9 108.4h0M397.9 105.2h0M397.9 106h0M398 109.1h0M398 109.5h0M398 111.9h0M398 112.5h0M398 109.9h0M398 110.7h0M398 113.2h0M398 108h0M398 112.8h0M398 114h0M398 107.1h0M398.1 109.2h0M398.1 111.1h0M398.1 109.4h0M398.1 108.7h0M398.1 111.2h0M398.1 111.7h0M398.1 115.6h0M398.2 113.5h0M398.2 112.4h0M398.2 110.3h0M398.2 114.3h0M398.2 113.2h0M398.2 107.5h0M398.2 111.5h0M398.3 117.9h0M398.3 114.7h0M398.3 114h0M398.3 110.8h0M398.3 118.3h0M398.3 114.8h0M398.3 114.3h0M398.3 111.9h0M398.3 123.5h0M398.3 115.5h0M398.3 116.8h0M398.3 116.3h0M398.3 115.3h0M398.4 116.1h0M398.4 119.2h0M398.4 112.8h0M398.4 118.9h0M398.4 117.7h0M398.4 116.4h0M398.4 119.5h0M398.4 115.8h0M398.4 115h0M398.4 113.6h0M398.4 117.3h0M398.4 108.3h0M398.4 117.2h0M398.5 119.9h0M398.5 122h0M398.5 120.5h0M398.5 116.7h0M398.5 117.6h0M398.5 121.1h0M398.5 121.5h0M398.5 124h0M398.5 120.6h0M398.6 118.3h0M398.6 118.7h0M398.6 117.8h0M398.6 124.5h0M398.6 123.6h0M398.6 125.3h0M398.6 122.4h0M398.6 121.1h0M398.6 120.9h0M398.6 119.9h0M398.6 124.8h0M398.6 119.6h0M398.7 120.3h0M398.7 122.7h0M398.7 121.4h0M398.7 123.3h0M398.7 122.4h0M398.7 119.1h0M398.7 124.3h0M398.8 125.1h0M398.8 126.7h0M398.8 121.9h0M398.8 128.8h0M398.8 125.6h0M398.8 126.1h0M398.8 126h0M398.8 126.3h0M398.8 123.9h0M398.8 129.5h0M398.8 126.2h0M398.8 122.8h0M398.8 129.3h0M398.9 127.5h0M398.9 131.1h0M398.9 123.1h0M398.9 130h0M398.9 127.9h0M398.9 126.6h0M398.9 132.1h0M398.9 127.1h0M398.9 128.5h0M399 124.7h0M399 130.4h0M399 132.4h0M399 133.1h0M399 132.9h0M399 128.4h0M399 130.7h0M399 133.6h0M399 127.6h0M399 129h0M399 131.6h0M399.1 130h0M399.1 130.3h0M399.1 137.8h0M399.1 131.6h0M399.1 135.2h0M399.1 128.6h0M399.1 131.1h0M399.2 134.3h0M399.2 129.6h0M399.2 134h0M399.2 135.5h0M399.2 133.1h0M399.2 136.3h0M399.2 134.9h0M399.2 127.3h0M399.2 137.1h0M399.2 130.8h0M399.2 134.2h0M399.2 134.1h0M399.3 135.9h0M399.3 146.5h0M399.3 132.8h0M399.3 131.9h0M399.3 139.6h0M399.3 137.6h0M399.3 132.3h0M399.3 128.1h0M399.3 136.9h0M399.3 135h0M399.3 136h0M399.3 134.6h0M399.4 133.5h0M399.4 125.6h0M399.4 137h0M399.4 136.6h0M399.4 141.1h0M399.4 140.1h0M399.4 138h0M399.4 138.3h0M399.4 140.4h0M399.5 141.9h0M399.5 138.9h0M399.5 139.2h0M399.5 135.5h0M399.5 136.4h0M399.5 139.1h0M399.5 141.7h0M399.5 138.6h0M399.5 138.3h0M399.5 141.1h0M399.5 139.5h0M399.5 140.9h0M399.5 144h0M399.5 142.4h0M399.5 137.4h0M399.5 141.4h0M399.6 142.3h0M399.6 145.6h0M399.6 143.7h0M399.6 142.8h0M399.6 143.2h0M399.6 140.4h0M399.6 143.4h0M399.6 151.6h0M399.6 144.5h0M399.6 143h0M399.6 139.8h0M399.6 146.7h0M399.7 145.2h0M399.7 143.9h0M399.7 144.4h0M399.7 141.8h0M399.7 144.7h0M399.7 145.5h0M399.7 140.6h0M399.7 142.8h0M399.7 146h0M399.8 157.5h0M399.8 147.7h0M399.8 149.6h0M399.8 145.2h0M399.8 146.3h0M399.8 150h0M399.8 144.6h0M399.8 149.2h0M399.8 146.6h0M399.8 151.4h0M399.8 151.1h0M399.8 145.9h0M399.8 147.1h0M399.9 148h0M399.9 149h0M399.9 148.9h0M399.9 150.4h0M399.9 152h0M399.9 153.5h0M399.9 150.3h0M399.9 147.1h0M400 150h0M400 148.4h0M400 154.5h0M400 147.9h0M400 149.5h0M400 147.3h0M400 150.8h0M400 152.5h0M400.1 153.2h0M400.1 152.6h0M400.1 152.3h0M400.1 154.4h0M400.1 156h0M400.1 153.2h0M400.1 154.7h0M400.1 151.8h0M400.1 148.3h0M400.1 154h0M400.2 150.8h0M400.2 157.3h0M400.2 156h0M400.2 155.6h0M400.2 155.2h0M400.2 153.3h0M400.2 155.4h0M400.2 156.6h0M400.2 157.5h0M400.2 158.8h0M400.3 153.8h0M400.3 159.2h0M400.3 156.2h0M400.3 156.8h0M400.3 159.9h0M400.3 159.7h0M400.3 154.7h0M400.3 155.1h0M400.3 158h0M400.3 156.9h0M400.4 160.4h0M400.4 158.2h0M400.4 162.5h0M400.4 159.1h0M400.4 163.7h0M400.4 161.9h0M400.4 160.9h0M400.4 161.5h0M400.4 148.6h0M400.4 164.6h0M400.4 162.7h0M400.4 161.2h0M400.4 159.9h0M400.4 152.7h0M400.4 158.7h0M400.5 151h0M400.5 163h0M400.5 158h0M400.5 161.8h0M400.5 166h0M400.5 159.4h0M400.5 163.1h0M400.5 160.5h0M400.5 167.6h0M400.5 161.4h0M400.5 163.7h0M400.6 160.3h0M400.6 161.2h0M400.6 165h0M400.6 164.4h0M400.6 164.1h0M400.6 162.3h0M400.6 162.7h0M400.6 156.3h0M400.6 164.8h0M400.6 165.6h0M400.6 165.2h0M400.6 168.3h0M400.6 163.5h0M400.6 178.8h0M400.6 164.2h0M400.6 167.2h0M400.7 166.8h0M400.7 167.3h0M400.7 158.3h0M400.7 168.6h0M400.7 169.1h0M400.7 167.5h0M400.7 167.8h0M400.7 166.4h0M400.7 172.7h0M400.7 168.1h0M400.7 170.6h0M400.7 174.1h0M400.8 170h0M400.8 170.4h0M400.8 165.4h0M400.8 168.8h0M400.8 169.1h0M400.8 166.1h0M400.8 166.6h0M400.8 171.1h0M400.8 169.8h0M400.8 168.1h0M400.8 171.9h0M400.8 171.5h0M400.9 176.2h0M400.9 171.9h0M400.9 186.8h0M400.9 171.6h0M400.9 174.2h0M400.9 172.2h0M400.9 173.4h0M400.9 169.5h0M400.9 173.1h0M400.9 175.9h0M400.9 174.8h0M400.9 171h0M400.9 174.9h0M401 170.2h0M401 175.5h0M401 176.7h0M401 175.2h0M401 174.5h0M401 177.6h0M401 170.6h0M401 172.7h0M401 173h0M401 178.4h0M401 176.3h0M401 175.6h0M401 177.9h0M401 173.5h0M401 177.1h0M401.1 182.4h0M401.1 177h0M401.1 181.6h0M401.1 182h0M401.1 183.1h0M401.1 181.3h0M401.1 179.9h0M401.1 173.9h0M401.1 177.6h0M401.1 179.9h0M401.1 180.7h0M401.1 183.6h0M401.1 166h0M401.1 175.9h0M401.1 179.2h0M401.1 169.5h0M401.2 181.2h0M401.2 179.7h0M401.2 184.3h0M401.2 180.7h0M401.2 181.5h0M401.2 180.4h0M401.2 176.5h0M401.2 185.3h0M401.2 185.9h0M401.2 177.9h0M401.2 181.7h0M401.2 187.3h0M401.2 180.3h0M401.2 172.4h0M401.2 182.6h0M401.2 178.2h0M401.3 186.3h0M401.3 184h0M401.3 179.4h0M401.3 183.9h0M401.3 182.6h0M401.3 178.8h0M401.3 174.4h0M401.3 188h0M401.3 184.7h0M401.3 183.5h0M401.3 199.9h0M401.3 184.9h0M401.4 187.4h0M401.4 185.6h0M401.4 189.5h0M401.4 185.4h0M401.4 190.4h0M401.4 182.2h0M401.4 183.1h0M401.4 191.4h0M401.4 188.7h0M401.4 192.7h0M401.4 179.1h0M401.4 187.1h0M401.4 189.9h0M401.4 189.2h0M401.4 184.2h0M401.5 194h0M401.5 193.5h0M401.5 187.5h0M401.5 186.3h0M401.5 190.6h0M401.5 184.5h0M401.5 188.4h0M401.5 191.1h0M401.5 193.2h0M401.5 190.7h0M401.5 207.5h0M401.5 187.8h0M401.5 185.9h0M401.5 195.5h0M401.5 198.3h0M401.5 188.7h0M401.6 186.6h0M401.6 194.3h0M401.6 189.8h0M401.6 191.5h0M401.6 188.1h0M401.6 195h0M401.6 197.9h0M401.6 192.6h0M401.6 194.8h0M401.6 191.1h0M401.6 195.1h0M401.6 189.1h0M401.6 192h0M401.6 193.4h0M401.6 189.3h0M401.6 192.3h0M401.6 197.1h0M401.6 193.1h0M401.6 201h0M401.6 196.8h0M401.7 194.4h0M401.7 190.1h0M401.7 199.5h0M401.7 191.8h0M401.7 197.7h0M401.7 199h0M401.7 196.3h0M401.7 200.4h0M401.7 197.5h0M401.7 195.5h0M401.7 200.7h0M401.7 196h0M401.7 193.9h0M401.7 194.7h0M401.7 196.7h0M401.7 205.5h0M401.7 203.9h0M401.7 198.6h0M401.7 204.9h0M401.7 196.2h0M401.8 198.2h0M401.8 200.8h0M401.8 197.3h0M401.8 199.5h0M401.8 198.8h0M401.8 203.6h0M401.8 197.1h0M401.8 201.1h0M401.8 201.5h0M401.8 200.3h0M401.8 202.7h0M401.8 202.7h0M401.8 203.5h0M401.8 206.3h0M401.8 203.2h0M401.8 205.1h0M401.8 199.9h0M401.8 202.4h0M401.8 204.3h0M401.8 199.1h0M401.8 205.9h0M401.9 208.4h0M401.9 201.9h0M401.9 208.8h0M401.9 205h0M401.9 202.1h0M401.9 201.6h0M401.9 207.2h0M401.9 205.3h0M401.9 210.3h0M401.9 208.5h0M401.9 202.1h0M401.9 209.5h0M401.9 210.9h0M401.9 206.3h0M401.9 213.4h0M401.9 208.1h0M401.9 210.3h0M401.9 209.2h0M401.9 211.1h0M401.9 203.8h0M401.9 206.8h0M401.9 204.3h0M402 206.8h0M402 207.4h0M402 207.9h0M402 214.7h0M402 214h0M402 211.4h0M402 211.2h0M402 205.9h0M402 196h0M402 207h0M402 192.3h0M402 204.6h0M402 210.8h0M402 212.7h0M402 212.3h0M402 216h0M402 214.4h0M402 214.6h0M402 208.3h0M402 210h0M402 211.8h0M402.1 209.9h0M402.1 215.3h0M402.1 213.2h0M402.1 209h0M402.1 218h0M402.1 212.3h0M402.1 216.8h0M402.1 211.8h0M402.1 209.3h0M402.1 216.2h0M402.1 211.6h0M402.1 216.6h0M402.1 215h0M402.1 218.4h0M402.1 212.6h0M402.1 213.2h0M402.1 218.6h0M402.2 216.2h0M402.2 213.4h0M402.2 215.9h0M402.2 215.6h0M402.2 213.8h0M402.2 228.8h0M402.2 221.4h0M402.2 214.4h0M402.2 217.2h0M402.2 217.5h0M402.2 203h0M402.2 217.8h0M402.2 219.1h0M402.2 219.9h0M402.2 221.9h0M402.2 219.9h0M402.3 224.3h0M402.3 215.3h0M402.3 222.2h0M402.3 219.2h0M402.3 219.7h0M402.3 217.1h0M402.3 225.7h0M402.3 222.7h0M402.3 221.2h0M402.3 218.1h0M402.4 218.7h0M402.4 223.9h0M402.4 219.4h0M402.4 223.7h0M402.4 221.7h0M402.4 224.5h0M402.4 223.4h0M402.4 226.7h0M402.4 222.6h0M402.4 223.5h0M402.4 224.2h0M402.4 220.1h0M402.4 220.6h0M402.4 227.6h0M402.4 225.9h0M402.4 220.9h0M402.5 227.9h0M402.5 229.4h0M402.5 225.2h0M402.5 226.9h0M402.5 221.3h0M402.5 227.2h0M402.5 224.8h0M402.5 223h0M402.5 226.4h0M402.5 227.4h0M402.5 230.4h0M402.5 222.2h0M402.5 225h0M402.5 229.1h0M402.6 230.1h0M402.6 228.4h0M402.6 226.6h0M402.6 227.9h0M402.6 217.6h0M402.6 230.7h0M402.6 233h0M402.6 229h0M402.6 234h0M402.6 239h0M402.6 232h0M402.6 220.3h0M402.6 225.5h0M402.6 234.2h0M402.6 234.6h0M402.7 231.6h0M402.7 225.7h0M402.7 235.1h0M402.7 232.6h0M402.7 232.6h0M402.7 226.3h0M402.7 228.6h0M402.7 229.8h0M402.7 231.1h0M402.7 220.6h0M402.7 229.4h0M402.7 228.1h0M402.7 223h0M402.7 230.5h0M402.7 232.3h0M402.7 247.4h0M402.7 237.5h0M402.7 231.1h0M402.7 231.9h0M402.7 237.2h0M402.8 232.3h0M402.8 233.5h0M402.8 230.1h0M402.8 234.6h0M402.8 235.8h0M402.8 233.4h0M402.8 236.3h0M402.8 236.4h0M402.8 233.8h0M402.8 231.4h0M402.8 239.1h0M402.8 238h0M402.8 245.7h0M402.9 239.6h0M402.9 235h0M402.9 239.8h0M402.9 235.8h0M402.9 233.1h0M402.9 236.8h0M402.9 235.4h0M402.9 235.6h0M402.9 238.6h0M402.9 237.1h0M402.9 252.3h0M402.9 237.5h0M402.9 239.3h0M402.9 240.4h0M402.9 234.3h0M402.9 238.2h0M403 237.8h0M403 238.7h0M403 241.4h0M403 241.9h0M403 240.1h0M403 243.6h0M403 244h0M403 244.7h0M403 240.9h0M403 241.3h0M403 243.1h0M403 236.7h0M403 240.5h0M403 242.2h0M403.1 239.7h0M403.1 238.2h0M403.1 242.3h0M403.1 241.8h0M403.1 244.3h0M403.1 244.5h0M403.1 241.2h0M403.1 245.2h0M403.1 242.8h0M403.1 249.5h0M403.1 246.3h0M403.1 246.4h0M403.1 248.2h0M403.1 242.6h0M403.2 244.4h0M403.2 245.3h0M403.2 245.6h0M403.2 247.1h0M403.2 245.8h0M403.2 246.6h0M403.2 248h0M403.2 248.7h0M403.2 243.1h0M403.2 251h0M403.2 248.9h0M403.2 248.2h0M403.2 251.6h0M403.2 243.4h0M403.2 246.7h0M403.2 247h0M403.3 245h0M403.3 253.1h0M403.3 261.8h0M403.3 243.8h0M403.3 253.6h0M403.3 249.5h0M403.3 250.7h0M403.3 252.8h0M403.3 250h0M403.3 255.2h0M403.3 250.6h0M403.3 267.5h0M403.3 249.9h0M403.3 250.4h0M403.3 240.8h0M403.3 249.2h0M403.3 248.6h0M403.3 251.8h0M403.3 254.7h0M403.4 252.1h0M403.4 251.5h0M403.4 257.2h0M403.4 267.8h0M403.4 255.8h0M403.4 254.4h0M403.4 247.5h0M403.4 247.9h0M403.4 250.1h0M403.4 253h0M403.4 258.3h0M403.4 251.8h0M403.4 254.1h0M403.4 256.3h0M403.4 255.4h0M403.4 253.8h0M403.4 257.1h0M403.5 257.5h0M403.5 259.1h0M403.5 257.5h0M403.5 250.9h0M403.5 258.7h0M403.5 253.3h0M403.5 254.6h0M403.5 255.5h0M403.5 258.9h0M403.5 252.7h0M403.5 259.3h0M403.5 259.9h0M403.5 256.1h0M403.5 253.7h0M403.6 257.9h0M403.6 254.9h0M403.6 260.7h0M403.6 259.5h0M403.6 256.8h0M403.6 261.1h0M403.6 255.9h0M403.6 260.2h0M403.6 257.8h0M403.6 261.6h0M403.6 262.1h0M403.6 265.2h0M403.6 263.1h0M403.6 261.3h0M403.6 258.8h0M403.6 256.5h0M403.6 263.5h0M403.6 262.4h0M403.6 260.6h0M403.6 275.8h0M403.7 261.8h0M403.7 258.1h0M403.7 264.6h0M403.7 265.9h0M403.7 264.3h0M403.7 266.4h0M403.7 279.8h0M403.7 262.6h0M403.7 263.8h0M403.7 264.3h0M403.7 264.7h0M403.7 265.5h0M403.7 270.3h0M403.7 261.1h0M403.7 259.8h0M403.7 265.5h0M403.7 263.1h0M403.7 269.9h0M403.8 262.5h0M403.8 260.3h0M403.8 268.2h0M403.8 272.4h0M403.8 279.3h0M403.8 269.2h0M403.8 266.3h0M403.8 266.7h0M403.8 269.6h0M403.8 273.9h0M403.8 263.9h0M403.8 266.9h0M403.8 265.9h0M403.8 274.2h0M403.8 265h0M403.9 267.1h0M403.9 263.3h0M403.9 266.7h0M403.9 274.8h0M403.9 272.7h0M403.9 270.8h0M403.9 270.6h0M403.9 271.5h0M403.9 276.4h0M403.9 271.9h0M403.9 269h0M403.9 273.5h0M403.9 267.9h0M403.9 275.5h0M403.9 268.7h0M403.9 273.2h0M403.9 275.9h0M403.9 267.5h0M403.9 276.8h0M403.9 269.4h0M404 274.3h0M404 271.1h0M404 268.5h0M404 272.8h0M404 271.7h0M404 272.2h0M404 278.3h0M404 269.8h0M404 270.2h0M404 268.2h0M404 273.9h0M404 279.1h0M404 273.4h0M404 274.6h0M404 276.7h0M404 275.2h0M404.1 271.1h0M404.1 280.8h0M404.1 271.5h0M404.1 281h0M404.1 275.3h0M404.1 277h0M404.1 282.7h0M404.1 277.8h0M404.1 281.4h0M404.1 279.5h0M404.1 272.9h0M404.1 277.7h0M404.1 283.5h0M404.1 277.4h0M404.1 278.8h0M404.1 282.3h0M404.1 275h0M404.1 279h0M404.1 285.8h0M404.2 281.9h0M404.2 278.5h0M404.2 283h0M404.2 280.2h0M404.2 285.2h0M404.2 287.5h0M404.2 280.3h0M404.2 284.5h0M404.2 277.1h0M404.2 278.1h0M404.2 283h0M404.2 281.4h0M404.2 288.4h0M404.2 279.8h0M404.2 284.4h0M404.2 283.3h0M404.2 284.3h0M404.2 286.2h0M404.2 288h0M404.2 285.8h0M404.3 285.5h0M404.3 282h0M404.3 289.2h0M404.3 287.1h0M404.3 285.6h0M404.3 282.2h0M404.3 284h0M404.3 284.7h0M404.3 286.4h0M404.3 290.6h0M404.3 290h0M404.3 291.9h0M404.3 285h0M404.3 281.1h0M404.3 288.3h0M404.3 292.2h0M404.3 286.8h0M404.4 286.5h0M404.4 283.7h0M404.4 282.5h0M404.4 289.6h0M404.4 293.8h0M404.4 288.6h0M404.4 294.6h0M404.4 293.2h0M404.4 303.1h0M404.4 289.3h0M404.4 277.4h0M404.4 288.6h0M404.4 291.1h0M404.4 287.5h0M404.5 291h0M404.5 290.2h0M404.5 287.8h0M404.5 287.1h0M404.5 295.8h0M404.5 289h0M404.5 297.6h0M404.5 293.5h0M404.5 289.9h0M404.5 296.2h0M404.5 276.3h0M404.5 295.5h0M404.5 302.9h0M404.5 292.8h0M404.5 294.1h0M404.6 298h0M404.6 293.9h0M404.6 295.4h0M404.6 290.2h0M404.6 293.4h0M404.6 290.6h0M404.6 294.4h0M404.6 295.1h0M404.6 294.5h0M404.6 292.3h0M404.6 295.1h0M404.6 292.6h0M404.6 280.6h0M404.6 296.9h0M404.6 291.8h0M404.6 299.4h0M404.6 296.8h0M404.6 291.3h0M404.6 298.2h0M404.6 301.5h0M404.6 301.2h0M404.6 297.2h0M404.6 292.9h0M404.6 298.3h0M404.7 299.2h0M404.7 298.9h0M404.7 300.2h0M404.7 302.7h0M404.7 300.2h0M404.7 296.1h0M404.7 298.8h0M404.8 296.6h0M404.8 301.8h0M404.8 295.9h0M404.8 299.3h0M404.8 302.4h0M404.8 310.9h0M404.8 301.8h0M404.8 299.9h0M404.8 306.4h0M404.8 291.4h0M404.8 300.6h0M404.8 297.3h0M404.8 303.6h0M404.8 297.8h0M404.8 305.1h0M404.9 305.9h0M404.9 304.4h0M404.9 303.9h0M404.9 303.8h0M404.9 302.5h0M404.9 302.1h0M404.9 305.5h0M404.9 300.5h0M404.9 303.5h0M404.9 301.5h0M404.9 304.9h0M404.9 308.3h0M404.9 306.5h0M405 300.9h0M405 307.1h0M405 318.3h0M405 307.9h0M405 304.6h0M405 304.2h0M405 310.8h0M405 305.9h0M405 311.1h0M405 309.5h0M405 307.7h0M405.1 306.8h0M405.1 307h0M405.1 306.2h0M405.1 307.5h0M405.1 321.4h0M405.1 313.5h0M405.1 308.1h0M405.1 304.5h0M405.1 299.9h0M405.1 309.8h0M405.1 305.5h0M405.1 308.7h0M405.1 312.3h0M405.1 308.6h0M405.1 309.1h0M405.1 309.4h0M405.1 310.1h0M405.2 307.3h0M405.2 298.6h0M405.2 312.1h0M405.2 310.3h0M405.2 314.2h0M405.2 310.6h0M405.2 311.9h0M405.2 316.6h0M405.2 312.8h0M405.2 328h0M405.2 311.6h0M405.2 316.3h0M405.2 314.5h0M405.2 313.1h0M405.2 315.9h0M405.2 309.9h0M405.2 312.9h0M405.3 329.8h0M405.3 314.7h0M405.3 311.4h0M405.3 315.7h0M405.3 315.5h0M405.3 315.4h0M405.3 314h0M405.3 319h0M405.3 319.3h0M405.3 319.9h0M405.3 316.9h0M405.3 311.7h0M405.3 312.7h0M405.3 313.7h0M405.3 313.4h0M405.3 315.1h0M405.3 314.9h0M405.4 317.8h0M405.4 321.7h0M405.4 318.5h0M405.4 320.7h0M405.4 317.1h0M405.4 321.1h0M405.4 317.3h0M405.4 319h0M405.4 322.3h0M405.4 316.2h0M405.4 324h0M405.4 321.2h0M405.4 316.7h0M405.4 314.3h0M405.4 317.4h0M405.4 321.7h0M405.4 324.2h0M405.4 332.9h0M405.5 320.2h0M405.5 322.6h0M405.5 322.6h0M405.5 318.7h0M405.5 334.9h0M405.5 321.4h0M405.5 323h0M405.5 318.3h0M405.5 319.8h0M405.5 317.7h0M405.5 323.5h0M405.5 319.3h0M405.5 320.2h0M405.6 322.1h0M405.6 326.1h0M405.6 323.5h0M405.6 309.1h0M405.6 325.3h0M405.6 325.5h0M405.6 324.3h0M405.6 327.2h0M405.6 323.1h0M405.6 325.1h0M405.6 320.7h0M405.6 324.7h0M405.6 325h0M405.6 326.8h0M405.6 327.4h0M405.6 324.6h0M405.6 326.9h0M405.7 323.9h0M405.7 329.9h0M405.7 329.1h0M405.7 327.3h0M405.7 333h0M405.7 331h0M405.7 332.4h0M405.7 331.9h0M405.7 326.3h0M405.7 325.8h0M405.7 331.5h0M405.7 329.5h0M405.7 330.4h0M405.7 327.8h0M405.7 341.3h0M405.7 334h0M405.7 326.6h0M405.7 328.5h0M405.7 332.7h0M405.7 328.7h0M405.7 331.4h0M405.7 335.2h0M405.7 331.1h0M405.7 331.7h0M405.7 330.3h0M405.8 332.8h0M405.8 325.8h0M405.8 334.3h0M405.8 332.2h0M405.8 330.4h0M405.8 329.1h0M405.8 330.5h0M405.8 336.6h0M405.8 334.5h0M405.8 333.4h0M405.8 336.3h0M405.8 350.4h0M405.8 329.2h0M405.8 334.3h0M405.9 337.9h0M405.9 337.4h0M405.9 334.6h0M405.9 336.8h0M405.9 337.1h0M405.9 335.3h0M405.9 335.9h0M405.9 339.4h0M405.9 337.4h0M405.9 340.6h0M405.9 336.1h0M405.9 338.7h0M405.9 333.3h0M405.9 335.8h0M405.9 342.2h0M405.9 341.5h0M405.9 341.1h0M406 339.3h0M406 337.7h0M406 340.6h0M406 333.7h0M406 341.8h0M406 340.8h0M406 340.4h0M406 339h0M406 339.8h0M406 338.1h0M406 338.2h0M406 336.7h0M406 342.5h0M406 345.5h0M406 339h0M406.1 328.4h0M406.1 344.3h0M406.1 339.7h0M406.1 341.8h0M406.1 328.2h0M406.1 338.5h0M406.1 343.8h0M406.1 340.3h0M406.1 342.6h0M406.1 343h0M406.1 347h0M406.1 347.7h0M406.1 347.4h0M406.1 345.1h0M406.2 349.8h0M406.2 343.9h0M406.2 344.8h0M406.2 343.4h0M406.2 347.4h0M406.2 342.1h0M406.2 345.8h0M406.2 346.6h0M406.2 342.9h0M406.2 351.1h0M406.2 344.5h0M406.3 348.4h0M406.3 346.3h0M406.3 353.5h0M406.3 349.3h0M406.3 352.6h0M406.3 352.3h0M406.3 344.2h0M406.3 335.5h0M406.3 344.9h0M406.3 354.2h0M406.3 346.5h0M406.3 345.3h0M406.3 346.1h0M406.3 348.7h0M406.3 351h0M406.3 345.9h0M406.3 349h0M406.3 346.9h0M406.3 348.9h0M406.3 350.1h0M406.4 354.6h0M406.4 352h0M406.4 348.1h0M406.4 351.5h0M406.4 349.9h0M406.4 348.5h0M406.4 350.5h0M406.4 353.4h0M406.4 349.3h0M406.4 350.7h0M406.4 353h0M406.4 347.6h0M406.4 355.1h0M406.4 357.4h0M406.4 356.6h0M406.4 358.9h0M406.4 351.9h0M406.4 354.4h0M406.5 357.7h0M406.5 351.3h0M406.5 356.4h0M406.5 355.9h0M406.5 358.3h0M406.5 354h0M406.5 355.5h0M406.5 353.7h0M406.5 351.7h0M406.5 356.1h0M406.5 359.6h0M406.5 358.9h0M406.5 357.8h0M406.5 361.5h0M406.5 356.8h0M406.5 358.8h0M406.5 343.3h0M406.6 352.7h0M406.6 360h0M406.6 355h0M406.6 360.8h0M406.6 360.3h0M406.6 357h0M406.6 354.3h0M406.6 356.7h0M406.6 359.9h0M406.6 361.2h0M406.6 365.1h0M406.6 359.3h0M406.6 372.6h0M406.6 357.3h0M406.6 361.9h0M406.6 355.5h0M406.7 363.5h0M406.7 355.8h0M406.7 358.5h0M406.7 362.1h0M406.7 360.5h0M406.7 360.3h0M406.7 363h0M406.7 362.6h0M406.7 362.3h0M406.7 363.7h0M406.7 364.8h0M406.8 358.2h0M406.8 363.9h0M406.8 353.1h0M406.8 365.9h0M406.8 374.7h0M406.8 368.5h0M406.8 361.3h0M406.8 367.1h0M406.8 363h0M406.8 364.1h0M406.8 367h0M406.8 361.7h0M406.8 361.1h0M406.8 366.6h0M406.8 363.4h0M406.8 365.4h0M406.8 362.4h0M406.8 365.9h0M406.8 369.3h0M406.9 372.2h0M406.9 366.2h0M406.9 371.5h0M406.9 380.6h0M406.9 370.6h0M406.9 366.2h0M406.9 366.5h0M406.9 369.8h0M406.9 368h0M406.9 364.6h0M406.9 374.3h0M406.9 370.6h0M406.9 365.1h0M406.9 367.3h0M406.9 373.6h0M406.9 367.7h0M406.9 371.2h0M406.9 364h0M406.9 369.7h0M407 371h0M407 371.8h0M407 369.1h0M407 369h0M407 373.9h0M407 368.3h0M407 368.5h0M407 367.4h0M407 370.3h0M407 374.6h0M407 373.2h0M407 370.2h0M407 371.9h0M407 375.8h0M407 375.5h0M407 372.8h0M407 374.9h0M407 377.4h0M407 375h0M407 368.2h0M407.1 379.1h0M407.1 376.7h0M407.1 373h0M407.1 369.3h0M407.1 372.9h0M407.1 380.8h0M407.1 378.7h0M407.1 379.8h0M407.1 372.2h0M407.1 373.7h0M407.1 379.4h0M407.1 371.5h0M407.1 374.2h0M407.2 379.8h0M407.2 382.2h0M407.2 380h0M407.2 377.4h0M407.2 376.2h0M407.2 380.3h0M407.2 377.7h0M407.2 377h0M407.2 376.6h0M407.2 375.5h0M407.2 377.7h0M407.2 384.3h0M407.2 375.8h0M407.2 378.6h0M407.3 380.9h0M407.3 378.3h0M407.3 383.7h0M407.3 383.5h0M407.3 376.9h0M407.3 382h0M407.3 382.6h0M407.3 379.4h0M407.3 380.9h0M407.3 378.1h0M407.3 382.6h0M407.3 384.5h0M407.3 365.3h0M407.3 385.6h0M407.3 381.3h0M407.3 385.9h0M407.3 394.1h0M407.3 383h0M407.4 381.9h0M407.4 385h0M407.4 386.4h0M407.4 378.9h0M407.4 387h0M407.4 383h0M407.4 381.5h0M407.4 393.9h0M407.4 384.3h0M407.4 396.8h0M407.5 381.9h0M407.5 402.3h0M407.5 383.3h0M407.5 388.3h0M407.5 386.5h0M407.5 385.6h0M407.5 387.5h0M407.5 388h0M407.5 389.9h0M407.5 383.6h0M407.5 389.4h0M407.6 385h0M407.6 385.5h0M407.6 384.6h0M407.6 399h0M407.6 388.6h0M407.6 390.3h0M407.6 386.9h0M407.6 376.1h0M407.6 389h0M407.6 391.1h0M407.7 386.4h0M407.7 395h0M407.7 387.5h0M407.7 386.1h0M407.7 392.7h0M407.7 390.5h0M407.7 393.5h0M407.7 392.9h0M407.7 391.3h0M407.7 398.2h0M407.8 391.6h0M407.8 395.4h0M407.8 390.8h0M407.8 387.7h0M407.8 394.2h0M407.8 396.1h0M407.8 395.8h0M407.8 395.5h0M407.8 399h0M407.8 388.6h0M407.8 399.4h0M407.8 393.3h0M407.8 394.7h0M407.8 401.7h0M407.8 389.4h0M407.8 388.2h0M407.8 392.1h0M407.8 388.9h0M407.8 397.4h0M407.8 392h0M407.8 396.6h0M407.8 391.2h0M407.8 390h0M407.8 397.9h0M407.8 393h0M407.8 389.7h0M407.8 396.5h0M407.8 400.3h0M407.8 398.7h0M407.9 393.8h0M407.9 391.9h0M407.9 403.4h0M407.9 401.2h0M407.9 395h0M407.9 397.5h0M407.9 397.7h0M407.9 390.8h0M407.9 395.9h0M407.9 394.6h0M407.9 396.1h0M407.9 400.7h0M407.9 397h0M407.9 392.4h0M407.9 404h0M407.9 399.9h0M408 398.6h0M408 400h0M408 404.7h0M408 402.7h0M408 406.3h0M408 399.8h0M408 404.2h0M408 400.8h0M408 401.4h0M408 407.6h0M408 401.6h0M408 405.7h0M408 399.2h0M408 404.9h0M408.1 402.5h0M408.1 400.6h0M408.1 405h0M408.1 408.9h0M408.1 403.2h0M408.1 407.9h0M408.1 405.5h0M408.1 409.4h0M408.1 408.8h0M408.1 402h0M408.1 404.6h0M408.1 401.5h0M408.1 403.2h0M408.1 407h0M408.1 402.8h0M408.1 405.7h0M408.1 406.9h0M408.1 403.7h0M408.2 406.6h0M408.2 406.5h0M408.2 410.2h0M408.2 411.1h0M408.2 407.7h0M408.2 406.1h0M408.2 408.2h0M408.2 405.3h0M408.2 404h0M408.2 408.3h0M408.3 408.5h0M408.3 410.5h0M408.3 410h0M408.3 398.3h0M408.3 411.3h0M408.3 412.5h0M408.4 409.6h0M408.4 413.4h0M408.4 416h0M408.4 411.8h0M408.5 413.7h0M408.5 414.6h0M408.5 419.8h0M408.5 411.7h0M408.5 410.6h0M408.5 409h0M408.5 417.3h0M408.5 410.8h0M408.5 413h0M408.5 409.4h0M408.6 416.2h0M408.6 415.1h0M408.6 413.4h0M408.6 415.4h0M408.6 410.2h0M408.6 416.6h0M408.6 411.4h0M408.6 414.2h0M408.6 417.9h0M408.6 417.3h0M408.7 418.5h0M408.7 415.2h0M408.7 412h0M408.7 412.8h0M408.7 415.7h0M408.7 418.3h0M408.7 413.8h0M408.7 407.4h0M408.7 420.1h0M408.7 412.3h0M408.8 414.2h0M408.8 416.9h0M408.8 415h0M408.8 417h0M408.8 414.4h0M408.8 415.7h0M408.9 419.1h0M408.9 416.6h0M408.9 419.5h0M409 417.6h0M409 421.1h0M409 418h0M409.1 412.4h0M409.1 420.7h0M409.2 421.4h0M409.2 418.5h0M409.3 427.4h0M409.4 422.4h0M409.4 421.8h0M409.4 422.2h0M409.5 418.9h0M409.5 419.2h0M409.6 419.6h0M409.6 423h0M409.7 420h0M409.7 423.3h0M410 423.6h0M410 420.3h0M410.1 420.6h0M410.3 423.9h0M410.5 424.1h0M410.6 420.8h0M410.8 420.5h0M410.8 423.8h0M411.1 420.2h0M411.2 423.5h0M411.3 423.3h0M411.3 419.8h0M411.4 422.7h0M411.4 422.4h0M411.5 419.1h0M411.5 419.6h0M411.6 422h0M411.7 418.8h0M411.7 421.7h0M411.8 418.4h0M411.9 418.1h0M411.9 421.4h0M412 421h0M412 420.1h0M412.1 417.5h0M412.1 419.8h0M412.1 420.5h0M412.1 415.5h0M412.1 417.1h0M412.1 416.9h0M412.2 419h0M412.2 415.2h0M412.2 418.2h0M412.2 417h0M412.2 417.3h0M412.2 416h0M412.2 416.4h0M412.3 419.4h0M412.3 413h0M412.3 414.4h0M412.3 413.6h0M412.3 415.7h0M412.3 414.1h0M412.3 416.2h0M412.3 414.9h0M412.3 418.5h0M412.3 411h0M412.4 411.6h0M412.4 414.6h0M412.4 414.2h0M412.4 410h0M412.4 413.4h0M412.4 412.3h0M412.4 415.3h0M412.5 413.7h0M412.5 414.9h0M412.5 412.1h0M412.5 409.8h0M412.5 408.4h0M412.6 412.6h0M412.6 410.4h0M412.6 409.2h0M412.6 403.3h0M412.6 413.5h0M412.6 410.3h0M412.7 408.1h0M412.7 410.8h0M412.7 406.9h0M412.7 412.9h0M412.7 408.8h0M412.7 405.5h0M412.7 409h0M412.7 412.2h0M412.7 411.5h0M412.7 410.6h0M412.7 416.5h0M412.7 417.7h0M412.8 409.4h0M412.8 411.7h0M412.8 408h0M412.8 407.3h0M412.8 407.8h0M412.8 411.2h0M412.8 406.4h0M412.8 391.4h0M412.9 407.5h0M412.9 405h0M412.9 403.6h0M412.9 405.3h0M412.9 404.1h0M412.9 402.8h0M412.9 406h0M412.9 403.3h0M412.9 401.3h0M412.9 403.7h0M412.9 404.4h0M412.9 407.8h0M412.9 400.7h0M412.9 405.2h0M412.9 402.5h0M412.9 408.7h0M412.9 405.8h0M412.9 404.8h0M412.9 400.6h0M413 399.5h0M413 404.1h0M413 406.6h0M413 407h0M413 400h0M413 402h0M413 399.2h0M413 406.2h0M413 404.5h0M413 402.3h0M413.1 397.5h0M413.1 398.9h0M413.1 396.2h0M413.1 397h0M413.1 403.1h0M413.1 400.7h0M413.1 397.8h0M413.1 401.8h0M413.1 392.2h0M413.1 399.7h0M413.1 394.4h0M413.1 401.6h0M413.1 395.1h0M413.1 398h0M413.1 401.4h0M413.1 396.2h0M413.1 396.4h0M413.1 394.9h0M413.1 392.5h0M413.1 394.6h0M413.1 393h0M413.1 393.7h0M413.1 400.1h0M413.1 394.2h0M413.1 390.9h0M413.1 384.1h0M413.2 398.4h0M413.2 397h0M413.2 398.6h0M413.2 409.7h0M413.2 402.6h0M413.2 397.2h0M413.2 395.7h0M413.2 391.8h0M413.2 388.9h0M413.2 390.6h0M413.2 399.3h0M413.2 400.9h0M413.2 391.2h0M413.2 392.7h0M413.2 398.1h0M413.3 394.2h0M413.3 387.8h0M413.3 390.1h0M413.3 395.6h0M413.3 398.9h0M413.3 391.7h0M413.3 393.4h0M413.3 393.4h0M413.3 386.8h0M413.3 389.7h0M413.3 382.7h0M413.3 393.7h0M413.3 396.6h0M413.3 389.8h0M413.3 395.3h0M413.3 389h0M413.3 389.4h0M413.3 388.6h0M413.3 385.6h0M413.3 390.1h0M413.3 392.1h0M413.3 388.1h0M413.4 385.2h0M413.4 384.6h0M413.4 385h0M413.4 387.2h0M413.4 389.5h0M413.4 387.8h0M413.4 376h0M413.4 390.5h0M413.5 383.5h0M413.5 386.4h0M413.5 388.5h0M413.5 387.5h0M413.5 386h0M413.5 397.4h0M413.5 385.3h0M413.6 383.3h0M413.6 382.9h0M413.6 392.9h0M413.6 385.8h0M413.6 386.9h0M413.6 381.6h0M413.6 386.2h0M413.6 395.4h0M413.6 385.1h0M413.6 388.1h0M413.6 384.2h0M413.6 384.6h0M413.6 379.8h0M413.7 381h0M413.7 382.5h0M413.7 391h0M413.7 381.4h0M413.7 378.8h0M413.7 380.5h0M413.7 386.5h0M413.7 382.1h0M413.7 379.4h0M413.7 383h0M413.7 378.6h0M413.7 376.9h0M413.7 383.4h0M413.7 379.5h0M413.7 375.2h0M413.8 383.8h0M413.8 381.3h0M413.8 374.8h0M413.8 377.6h0M413.8 378.1h0M413.8 381h0M413.8 373.8h0M413.8 374.2h0M413.8 376.6h0M413.8 375.6h0M413.8 379.9h0M413.8 377.5h0M413.8 380.1h0M413.8 377.7h0M413.8 380.7h0M413.8 372.9h0M413.8 375.7h0M413.9 377h0M413.9 378.7h0M413.9 374.5h0M413.9 374.4h0M413.9 382.1h0M413.9 374.9h0M413.9 381.8h0M413.9 380h0M413.9 374.1h0M413.9 377.2h0M413.9 378.2h0M413.9 372.4h0M413.9 376.1h0M413.9 357.2h0M413.9 378.9h0M413.9 373.2h0M414 372.7h0M414 371.1h0M414 368.5h0M414 367.4h0M414 370.9h0M414 370.1h0M414 366.5h0M414 371.7h0M414 368.2h0M414 376.5h0M414 366.9h0M414 371.4h0M414 372h0M414.1 364.9h0M414.1 369.9h0M414.1 369.7h0M414.1 375.5h0M414.1 369.3h0M414.1 370.5h0M414.1 370.5h0M414.1 373.7h0M414.1 367.7h0M414.1 373h0M414.1 369h0M414.1 371.8h0M414.1 365.3h0M414.1 372.1h0M414.1 368.6h0M414.1 366.2h0M414.2 368.1h0M414.2 363.7h0M414.2 367.5h0M414.2 370.1h0M414.2 371.3h0M414.2 367.7h0M414.2 366.7h0M414.2 365.8h0M414.2 367h0M414.2 364.4h0M414.2 364h0M414.2 366.2h0M414.2 360.6h0M414.2 362.5h0M414.2 362.2h0M414.3 362.5h0M414.3 364.2h0M414.3 365.7h0M414.3 362.1h0M414.3 365.3h0M414.3 363.2h0M414.3 364.6h0M414.3 360.8h0M414.3 361.5h0M414.3 361.3h0M414.3 360.2h0M414.3 362.8h0M414.3 346.8h0M414.3 362.9h0M414.3 357.8h0M414.4 356.1h0M414.4 358.6h0M414.4 358.3h0M414.4 359.3h0M414.4 353.8h0M414.4 358.6h0M414.4 358.2h0M414.4 363.8h0M414.4 363.4h0M414.4 356.4h0M414.4 361.8h0M414.4 359.7h0M414.4 355.9h0M414.4 358.9h0M414.4 360.7h0M414.4 359.4h0M414.5 354h0M414.5 358.9h0M414.5 351.6h0M414.5 361h0M414.5 373.5h0M414.5 357h0M414.5 356.2h0M414.5 355.7h0M414.5 355h0M414.5 357.8h0M414.5 369h0M414.5 369.4h0M414.5 356.8h0M414.5 354.8h0M414.5 359.8h0M414.5 352.8h0M414.5 352h0M414.5 355.3h0M414.5 348.8h0M414.6 355.3h0M414.6 351.3h0M414.6 349.6h0M414.6 354.5h0M414.6 356.6h0M414.6 353.3h0M414.6 357.3h0M414.6 352.2h0M414.6 352.5h0M414.6 348.4h0M414.6 346.2h0M414.6 347.8h0M414.6 341.7h0M414.6 354.1h0M414.6 351.3h0M414.7 364.9h0M414.7 354.5h0M414.7 351.7h0M414.7 350.2h0M414.7 350.1h0M414.7 350.9h0M414.7 352.9h0M414.7 349.4h0M414.7 345.4h0M414.7 344.6h0M414.7 348.9h0M414.7 353.5h0M414.7 345h0M414.7 353.8h0M414.7 351.1h0M414.7 352.7h0M414.7 347.7h0M414.7 346.5h0M414.7 361.6h0M414.7 350.6h0M414.7 333.7h0M414.7 350.6h0M414.7 347.2h0M414.8 344.2h0M414.8 349.7h0M414.8 348.6h0M414.8 348.3h0M414.8 341.2h0M414.8 346.3h0M414.8 348h0M414.8 345.7h0M414.8 346.6h0M414.8 332.2h0M414.8 342.8h0M414.8 349.3h0M414.8 360.2h0M414.8 343.1h0M414.9 329.2h0M414.9 340.5h0M414.9 345.1h0M414.9 345.8h0M414.9 344.6h0M414.9 346.9h0M414.9 339h0M414.9 340.9h0M414.9 347.5h0M414.9 343.8h0M414.9 342h0M414.9 343.2h0M414.9 341.1h0M414.9 340.2h0M414.9 341.6h0M415 342.6h0M415 339.8h0M415 340.2h0M415 338.5h0M415 337.8h0M415 338.2h0M415 339.3h0M415 345.3h0M415 344.3h0M415 338.5h0M415 340.7h0M415 337.3h0M415 339h0M415.1 341.5h0M415.1 332.5h0M415.1 336.5h0M415.1 337h0M415.1 333.2h0M415.1 335.8h0M415.1 320.5h0M415.1 337.5h0M415.1 331.4h0M415.1 339.4h0M415.1 342.7h0M415.1 342.2h0M415.1 332.8h0M415.1 336h0M415.1 330.5h0M415.1 333.8h0M415.1 335.1h0M415.1 333.4h0M415.1 332.2h0M415.1 334.4h0M415.1 335.2h0M415.1 333.1h0M415.1 339.7h0M415.1 336.2h0M415.1 336.4h0M415.1 318.4h0M415.2 329.7h0M415.2 334.6h0M415.2 335.7h0M415.2 334.8h0M415.2 337.8h0M415.2 330.1h0M415.2 334.2h0M415.2 330.8h0M415.2 327.7h0M415.2 337.1h0M415.2 343.7h0M415.2 326.5h0M415.2 331.7h0M415.3 334.1h0M415.3 329.7h0M415.3 326.1h0M415.3 335.3h0M415.3 329.3h0M415.3 329h0M415.3 325.4h0M415.3 331.1h0M415.3 325.8h0M415.3 327.4h0M415.3 331.5h0M415.3 328.2h0M415.3 325.5h0M415.3 326.7h0M415.4 326.9h0M415.4 322.6h0M415.4 332.7h0M415.4 328.6h0M415.4 324.9h0M415.4 328.4h0M415.4 343.3h0M415.4 331.8h0M415.4 328.1h0M415.4 313.9h0M415.4 320.9h0M415.4 330.7h0M415.4 324.2h0M415.4 330.1h0M415.4 327.7h0M415.4 323.4h0M415.4 322.8h0M415.4 327.3h0M415.5 324.5h0M415.5 322.2h0M415.5 322.1h0M415.5 310.3h0M415.5 325h0M415.5 327h0M415.5 329.1h0M415.5 326.2h0M415.5 321.3h0M415.5 318h0M415.5 323.5h0M415.5 338.1h0M415.5 324.1h0M415.5 325.8h0M415.5 320.6h0M415.5 323.8h0M415.5 321.7h0M415.5 319.1h0M415.5 320.9h0M415.5 316.4h0M415.5 315.8h0M415.5 316h0M415.5 318.5h0M415.6 321.5h0M415.6 317.3h0M415.6 324.6h0M415.6 314.5h0M415.6 320.1h0M415.6 318.8h0M415.6 319.4h0M415.6 315.4h0M415.6 307.9h0M415.6 314.2h0M415.6 318.2h0M415.6 317h0M415.6 317.8h0M415.6 323.8h0M415.6 323h0M415.6 322.5h0M415.7 317h0M415.7 315.5h0M415.7 313.7h0M415.7 319.8h0M415.7 321.9h0M415.7 317.9h0M415.7 312.9h0M415.7 315.7h0M415.7 319.3h0M415.7 311.8h0M415.7 314.2h0M415.7 314.8h0M415.7 310.2h0M415.7 320.2h0M415.7 316.6h0M415.7 310.5h0M415.7 316.2h0M415.7 312h0M415.8 317.4h0M415.8 312.4h0M415.8 311.9h0M415.8 313h0M415.8 312.5h0M415.8 311.4h0M415.8 310.9h0M415.8 309.2h0M415.8 313.3h0M415.8 314.5h0M415.8 313.3h0M415.8 308.4h0M415.8 314.9h0M415.8 301.1h0M415.9 310.7h0M415.9 312.3h0M415.9 307.3h0M415.9 308.8h0M415.9 305h0M415.9 319.7h0M415.9 306.6h0M415.9 304h0M415.9 309.4h0M415.9 305.2h0M415.9 311h0M415.9 309.7h0M416 308.1h0M416 311.5h0M416 307.7h0M416 306.9h0M416 303.3h0M416 309.8h0M416 306h0M416 305.7h0M416 309h0M416 304.2h0M416 301.3h0M416.1 306.1h0M416.1 303.6h0M416.1 302.6h0M416.1 302.2h0M416.1 302.8h0M416.1 308.7h0M416.1 300.2h0M416.1 302.3h0M416.1 303.5h0M416.1 304.4h0M416.1 301h0M416.1 307h0M416.1 305.4h0M416.1 298.5h0M416.1 298.2h0M416.2 299.8h0M416.2 301.6h0M416.2 306.7h0M416.2 299.3h0M416.2 301.9h0M416.2 305.8h0M416.2 297.3h0M416.2 299.3h0M416.2 304.9h0M416.3 303h0M416.3 301.4h0M416.3 300.6h0M416.3 300.2h0M416.3 302.5h0M416.3 297.9h0M416.3 292.8h0M416.3 298.7h0M416.3 299h0M416.3 297h0M416.4 308.2h0M416.4 293.8h0M416.4 295.3h0M416.4 300.6h0M416.4 294.9h0M416.4 299.1h0M416.4 297.8h0M416.4 296.6h0M416.4 294.2h0M416.4 295.3h0M416.4 294.2h0M416.4 299.8h0M416.4 292.5h0M416.4 296.3h0M416.4 293.3h0M416.4 307.3h0M416.4 290.1h0M416.4 292.2h0M416.4 295.6h0M416.4 294.7h0M416.5 290.6h0M416.5 279.8h0M416.5 294.6h0M416.5 298.2h0M416.5 291.8h0M416.5 297.5h0M416.5 293.1h0M416.5 291.4h0M416.5 292.2h0M416.5 291h0M416.5 297h0M416.5 293.4h0M416.5 295.8h0M416.5 289.9h0M416.5 296.6h0M416.5 295h0M416.5 304.5h0M416.5 293.7h0M416.5 291.8h0M416.5 287.3h0M416.6 289.7h0M416.6 303.9h0M416.6 290.6h0M416.6 288.7h0M416.6 285.4h0M416.6 290.9h0M416.6 287.5h0M416.6 287.7h0M416.6 285.6h0M416.6 288.2h0M416.6 286.1h0M416.6 289.4h0M416.6 284.6h0M416.6 291.5h0M416.6 288.5h0M416.7 286.8h0M416.7 285.4h0M416.7 288h0M416.7 283.4h0M416.7 292.6h0M416.7 288.8h0M416.7 286.6h0M416.7 290.1h0M416.7 282.3h0M416.7 284.2h0M416.7 281.7h0M416.7 286.7h0M416.7 283.8h0M416.7 284.2h0M416.7 287.8h0M416.7 283h0M416.7 281.3h0M416.7 296h0M416.7 284.6h0M416.7 288.9h0M416.7 289.5h0M416.8 281.9h0M416.8 285h0M416.8 283.8h0M416.8 283.4h0M416.8 282.2h0M416.8 276.2h0M416.8 282.4h0M416.8 276.4h0M416.8 279.4h0M416.8 278.9h0M416.8 287h0M416.8 281h0M416.8 286.4h0M416.8 285.9h0M416.8 278.4h0M416.9 275.3h0M416.9 267.4h0M416.9 280.6h0M416.9 282.8h0M416.9 281.5h0M416.9 285h0M416.9 280.2h0M416.9 279h0M416.9 280.4h0M416.9 279.8h0M416.9 277h0M416.9 277h0M416.9 278.1h0M416.9 263.9h0M416.9 275h0M416.9 277.4h0M416.9 275.7h0M416.9 277.8h0M416.9 282.6h0M416.9 275.7h0M416.9 277.4h0M417 277.6h0M417 274.1h0M417 280.3h0M417 280.9h0M417 270.9h0M417 276.6h0M417 272.7h0M417 272.6h0M417 273h0M417 274.5h0M417 262.4h0M417 278.3h0M417 257.6h0M417 279.5h0M417 276.2h0M417 272.1h0M417 271.1h0M417 259.9h0M417 270.6h0M417 278.5h0M417 267.8h0M417 272.1h0M417 274.1h0M417 270h0M417 255.7h0M417.1 273.9h0M417.1 268.2h0M417.1 267.5h0M417.1 269.3h0M417.1 273.6h0M417.1 275.4h0M417.1 268.5h0M417.1 266.5h0M417.1 270.5h0M417.1 273.2h0M417.1 272.9h0M417.1 269.7h0M417.1 264.5h0M417.1 273.5h0M417.1 269.2h0M417.1 268.5h0M417.1 274.9h0M417.1 266.3h0M417.1 271.2h0M417.1 271.8h0M417.1 267h0M417.2 274.5h0M417.2 268.8h0M417.2 271.8h0M417.2 265.3h0M417.2 262.9h0M417.2 267.8h0M417.2 263.7h0M417.2 266.7h0M417.2 265h0M417.2 254.6h0M417.2 262.3h0M417.2 270.2h0M417.2 271.4h0M417.2 265.7h0M417.2 268.2h0M417.2 264.1h0M417.2 260.8h0M417.2 269.9h0M417.2 265.8h0M417.3 265.3h0M417.3 266.3h0M417.3 267.1h0M417.3 259h0M417.3 248.1h0M417.3 263h0M417.3 269h0M417.3 260.2h0M417.3 262.7h0M417.3 263.5h0M417.3 261.6h0M417.4 262.6h0M417.4 258.5h0M417.4 259.4h0M417.4 261.2h0M417.4 259.8h0M417.4 260.4h0M417.4 260.7h0M417.4 260.6h0M417.4 264.6h0M417.4 254.5h0M417.4 265h0M417.4 257.7h0M417.4 259.6h0M417.4 260.9h0M417.4 264.1h0M417.4 261.4h0M417.5 263.3h0M417.5 254.2h0M417.5 259h0M417.5 258.1h0M417.5 262h0M417.5 255.3h0M417.5 252.4h0M417.5 256.6h0M417.5 257.3h0M417.5 256.2h0M417.5 258.8h0M417.5 253h0M417.5 257.4h0M417.5 258.1h0M417.5 256.9h0M417.6 256.6h0M417.6 252.2h0M417.6 250.9h0M417.6 255h0M417.6 254.2h0M417.6 252h0M417.6 253.9h0M417.6 256.1h0M417.6 255h0M417.6 253.3h0M417.6 248.9h0M417.6 255.8h0M417.6 251.4h0M417.6 253.9h0M417.6 257h0M417.6 250.3h0M417.6 247.7h0M417.6 251.8h0M417.7 235.6h0M417.7 252.6h0M417.7 255.4h0M417.7 251.5h0M417.7 249.4h0M417.7 252h0M417.7 248.6h0M417.7 249.4h0M417.7 253.5h0M417.7 249.9h0M417.7 251.1h0M417.7 243.4h0M417.7 249.7h0M417.7 247.4h0M417.7 245.7h0M417.7 250.6h0M417.8 250.3h0M417.8 250.7h0M417.8 253.1h0M417.8 247.5h0M417.8 242.9h0M417.8 246.1h0M417.8 247.7h0M417.8 248.3h0M417.8 246.5h0M417.8 249.1h0M417.8 244.2h0M417.8 245.4h0M417.8 243.6h0M417.8 230.7h0M417.9 240.2h0M417.9 246.8h0M417.9 241.7h0M417.9 245.1h0M417.9 248.5h0M417.9 246h0M417.9 239.6h0M417.9 242.5h0M417.9 245.1h0M417.9 244.5h0M417.9 241.4h0M417.9 241.4h0M417.9 242.5h0M417.9 243.9h0M417.9 238.7h0M417.9 242.1h0M417.9 243.6h0M418 246.5h0M418 237.2h0M418 240.8h0M418 239h0M418 246.2h0M418 236.1h0M418 245.3h0M418 239h0M418 244.3h0M418 238.1h0M418 243h0M418 244.7h0M418 242.2h0M418 240.7h0M418 239.9h0M418 237h0M418 240.6h0M418.1 237.7h0M418.1 234.2h0M418.1 239.2h0M418.1 241.7h0M418.1 236.5h0M418.1 241h0M418.1 234.9h0M418.1 237.6h0M418.1 236.7h0M418.1 233.7h0M418.1 235.7h0M418.2 232.2h0M418.2 237.1h0M418.2 233.4h0M418.2 238.6h0M418.2 236.2h0M418.2 239.5h0M418.2 232.9h0M418.2 231.1h0M418.2 235.3h0M418.2 233.4h0M418.2 238.1h0M418.2 247.1h0M418.2 234.6h0M418.2 228.2h0M418.3 231.5h0M418.3 231.9h0M418.3 237.5h0M418.3 233.9h0M418.3 223.5h0M418.3 232.7h0M418.3 235.5h0M418.3 234.3h0M418.3 232.9h0M418.3 234.7h0M418.3 227.7h0M418.3 235h0M418.3 230.2h0M418.3 232.1h0M418.3 221.8h0M418.4 232.6h0M418.4 216.6h0M418.4 228.2h0M418.4 228.9h0M418.4 226.7h0M418.4 226.2h0M418.4 227.3h0M418.4 225.4h0M418.4 229.4h0M418.4 231.1h0M418.4 231.4h0M418.4 231.8h0M418.4 227.3h0M418.4 227h0M418.5 229.9h0M418.5 225.8h0M418.5 228.7h0M418.5 228.6h0M418.5 230.6h0M418.5 224.8h0M418.5 240.2h0M418.5 225.1h0M418.5 223.3h0M418.5 230.2h0M418.5 224.1h0M418.5 222.9h0M418.5 227.1h0M418.5 221.8h0M418.5 226.2h0M418.5 221h0M418.5 227.9h0M418.5 220.1h0M418.6 220.6h0M418.6 229.1h0M418.6 226.6h0M418.6 223.7h0M418.6 224.5h0M418.6 221.3h0M418.6 222.9h0M418.6 219.4h0M418.6 207.5h0M418.6 218.5h0M418.6 222.2h0M418.6 212.1h0M418.6 225.4h0M418.6 217.9h0M418.6 224.6h0M418.6 223.8h0M418.7 218.8h0M418.7 225.8h0M418.7 221.1h0M418.7 224.2h0M418.7 218.1h0M418.7 222.5h0M418.7 220.7h0M418.7 229.8h0M418.7 221.4h0M418.7 217.1h0M418.7 220.4h0M418.8 207.5h0M418.8 217.9h0M418.8 222.3h0M418.8 222.7h0M418.8 215.5h0M418.8 229.2h0M418.8 213.7h0M418.8 216.2h0M418.8 219.9h0M418.8 219.2h0M418.8 219.5h0M418.8 215.4h0M418.8 213h0M418.8 217.5h0M418.8 213.4h0M418.8 211.4h0M418.9 216.8h0M418.9 214.1h0M418.9 215.9h0M418.9 218.7h0M418.9 218.2h0M418.9 212.6h0M418.9 214.1h0M418.9 211.1h0M418.9 217.5h0M418.9 214.4h0M418.9 216.1h0M418.9 217.1h0M418.9 214.6h0M418.9 213h0M418.9 208.1h0M419 210.5h0M419 214.8h0M419 209h0M419 215.7h0M419 211.9h0M419 213.8h0M419 207.1h0M419 211.8h0M419 208.7h0M419 205.3h0M419 209.8h0M419 213.6h0M419 209.5h0M419 211.4h0M419 212.1h0M419 206.6h0M419 212.7h0M419 207.8h0M419 203.8h0M419 209.7h0M419 210h0M419 215h0M419 208.4h0M419 204.6h0M419.1 210.2h0M419.1 203h0M419.1 206.2h0M419.1 219.9h0M419.1 208.5h0M419.1 203.1h0M419.1 210.7h0M419.1 207h0M419.1 201.7h0M419.2 200.2h0M419.2 209.1h0M419.2 209.5h0M419.2 206.8h0M419.2 205.7h0M419.2 202.3h0M419.2 206.1h0M419.2 202.6h0M419.2 200.6h0M419.2 197.7h0M419.2 205.5h0M419.2 196.5h0M419.2 204.1h0M419.2 201.7h0M419.2 204.2h0M419.2 200.3h0M419.2 202.6h0M419.2 199.6h0M419.2 202.2h0M419.2 207.9h0M419.2 204.9h0M419.2 198.7h0M419.2 201.4h0M419.2 204h0M419.2 205h0M419.2 201h0M419.2 203.5h0M419.2 205.8h0M419.2 203.4h0M419.2 199.1h0M419.3 201.4h0M419.3 194.7h0M419.3 201.1h0M419.3 196h0M419.3 194.2h0M419.3 197.4h0M419.3 199.4h0M419.3 199.5h0M419.3 198.3h0M419.3 196.7h0M419.3 191h0M419.3 193.9h0M419.4 195.4h0M419.4 197h0M419.4 198.6h0M419.4 198.3h0M419.4 193.6h0M419.4 199.8h0M419.4 194.6h0M419.4 190.1h0M419.4 192.1h0M419.4 199.1h0M419.4 194.9h0M419.4 211.1h0M419.4 195.8h0M419.4 193.1h0M419.4 193.7h0M419.4 192.5h0M419.4 197.4h0M419.4 194.3h0M419.4 188.2h0M419.4 188.9h0M419.4 197h0M419.4 190.6h0M419.5 192.9h0M419.5 187.3h0M419.5 191.4h0M419.5 186.2h0M419.5 195.3h0M419.5 186.9h0M419.5 189.8h0M419.5 191.7h0M419.5 193.4h0M419.5 189.5h0M419.5 195h0M419.5 185.9h0M419.5 196.2h0M419.5 191.9h0M419.5 192.4h0M419.5 187.6h0M419.5 190.5h0M419.5 188.7h0M419.5 191h0M419.6 185h0M419.6 184.3h0M419.6 189.7h0M419.6 188.3h0M419.6 192.7h0M419.6 189.3h0M419.6 182.8h0M419.6 187h0M419.6 187.6h0M419.6 190.2h0M419.6 191.5h0M419.6 188.6h0M419.6 182.1h0M419.6 204.7h0M419.6 200.5h0M419.7 186.6h0M419.7 187.8h0M419.7 183.8h0M419.7 189h0M419.7 186.5h0M419.7 185.4h0M419.7 183h0M419.7 185.9h0M419.7 182.3h0M419.7 179.4h0M419.7 181.3h0M419.7 183.3h0M419.7 185.3h0M419.7 196.1h0M419.7 178.9h0M419.7 184.6h0M419.8 181.9h0M419.8 177.9h0M419.8 182.7h0M419.8 181h0M419.8 180.5h0M419.8 181.8h0M419.8 178.5h0M419.8 186.4h0M419.8 197.9h0M419.8 183.3h0M419.8 181h0M419.8 182.8h0M419.8 184.2h0M419.8 185h0M419.8 181.4h0M419.8 178.2h0M419.8 184.6h0M419.9 176.5h0M419.9 177h0M419.9 183.9h0M419.9 179.1h0M419.9 177.8h0M419.9 180.2h0M419.9 175.8h0M419.9 174.6h0M419.9 170.4h0M419.9 179.7h0M419.9 177.5h0M419.9 179.5h0M419.9 178.7h0M419.9 175h0M419.9 176.5h0M420 176.2h0M420 180.8h0M420 180.4h0M420 175.1h0M420 179.9h0M420 172.9h0M420 174.1h0M420 171.7h0M420 174.4h0M420 172.7h0M420 173.7h0M420 178.4h0M420 173.4h0M420.1 170.5h0M420.1 175.9h0M420.1 176.2h0M420.1 177.1h0M420.1 163.8h0M420.1 175.5h0M420.1 177.5h0M420.1 173.4h0M420.1 174.7h0M420.1 172.6h0M420.1 173.7h0M420.1 171.3h0M420.1 173.2h0M420.1 175.4h0M420.1 169.4h0M420.2 161.8h0M420.2 172.2h0M420.2 170.9h0M420.2 172h0M420.2 168.2h0M420.2 167h0M420.2 165.9h0M420.2 171.1h0M420.2 170.1h0M420.2 169h0M420.2 169.8h0M420.3 168.5h0M420.3 167.9h0M420.3 166.6h0M420.3 165.5h0M420.3 159.6h0M420.3 170.6h0M420.3 163.7h0M420.3 169.5h0M420.3 166.1h0M420.3 164.1h0M420.3 169.8h0M420.3 171.6h0M420.3 172.3h0M420.3 167.2h0M420.3 167.8h0M420.3 165h0M420.3 162.9h0M420.3 166.8h0M420.3 167.3h0M420.3 169.1h0M420.3 165.5h0M420.3 165.8h0M420.4 168.6h0M420.4 166.2h0M420.4 167.5h0M420.4 162.2h0M420.4 164.8h0M420.4 165.2h0M420.4 163.4h0M420.5 168.4h0M420.5 164.7h0M420.5 163.6h0M420.5 152.9h0M420.5 164.2h0M420.5 159.9h0M420.5 158.7h0M420.5 162.6h0M420.5 162.2h0M420.5 161.8h0M420.5 161h0M420.5 153.4h0M420.6 160.5h0M420.6 162.7h0M420.6 159.8h0M420.6 161.3h0M420.6 158.2h0M420.6 160.3h0M420.6 159.1h0M420.6 159.3h0M420.6 163.1h0M420.6 155.7h0M420.6 160.2h0M420.7 155.3h0M420.7 156.9h0M420.7 154.6h0M420.7 161.2h0M420.7 161.6h0M420.7 157.7h0M420.7 154.2h0M420.7 156.7h0M420.7 157.5h0M420.7 158.6h0M420.7 154.9h0M420.8 158.3h0M420.8 155.9h0M420.8 156.3h0M420.8 160.8h0M420.8 157.3h0M420.8 156.3h0M420.8 155.2h0M420.8 156.8h0M420.8 159h0M420.8 154.3h0M420.9 157.1h0M420.9 153.9h0M420.9 147.6h0M420.9 157.9h0M420.9 151.8h0M420.9 150.6h0M420.9 150.3h0M420.9 153.2h0M420.9 149.9h0M420.9 150.9h0M420.9 149.5h0M420.9 153.9h0M420.9 152.5h0M421 151h0M421 155.4h0M421 152.7h0M421 152.3h0M421 154.8h0M421 151.3h0M421 150h0M421 150.6h0M421 146.1h0M421 146.5h0M421.1 152.4h0M421.1 151.8h0M421.1 148.2h0M421.1 147.4h0M421.1 149.4h0M421.1 150.2h0M421.1 147.9h0M421.1 149h0M421.1 148.6h0M421.1 144.7h0M421.1 145.4h0M421.2 151.5h0M421.2 145.7h0M421.2 149.2h0M421.2 148.6h0M421.2 147.1h0M421.2 153.5h0M421.2 142.2h0M421.2 144.9h0M421.2 148.2h0M421.2 148h0M421.3 144.2h0M421.3 146h0M421.3 144.7h0M421.3 144.2h0M421.3 143.5h0M421.3 141.7h0M421.3 143.1h0M421.3 145.2h0M421.3 147h0M421.3 142.5h0M421.3 143.8h0M421.3 146.2h0M421.4 143.5h0M421.4 142.6h0M421.4 141.2h0M421.4 142.2h0M421.4 141.5h0M421.4 140.1h0M421.5 138.9h0M421.5 140.3h0M421.5 143.2h0M421.5 140.7h0M421.5 138.2h0M421.5 142h0M421.5 140.6h0M421.5 137h0M421.5 139.3h0M421.5 139.5h0M421.5 141h0M421.5 137.8h0M421.5 137.3h0M421.5 139.9h0M421.6 139.8h0M421.6 141.6h0M421.6 135.7h0M421.6 136.2h0M421.6 138.7h0M421.6 136.7h0M421.6 135.5h0M421.6 138.8h0M421.7 138.2h0M421.7 133.9h0M421.7 136.6h0M421.7 139.1h0M421.7 132.6h0M421.7 136.3h0M421.7 137h0M421.7 146.7h0M421.7 137.4h0M421.7 131.5h0M421.7 134.9h0M421.8 131h0M421.8 135.4h0M421.8 130.5h0M421.8 135.8h0M421.8 134.6h0M421.8 134.1h0M421.8 134.3h0M421.8 133.3h0M421.8 134.7h0M421.8 145.5h0M421.8 137.8h0M421.8 135.2h0M421.8 143.8h0M421.8 133.8h0M421.8 133h0M421.8 132.3h0M421.9 128.6h0M421.9 132.3h0M421.9 128.9h0M421.9 128.1h0M421.9 131.9h0M421.9 133h0M421.9 127.4h0M421.9 133.4h0M422 132.8h0M422 129.5h0M422 130.4h0M422 130.2h0M422 131.5h0M422 127.7h0M422 126.9h0M422.1 131.2h0M422.1 131.9h0M422.1 125.9h0M422.1 130.8h0M422.1 124.3h0M422.1 129.2h0M422.1 123.8h0M422.1 129.9h0M422.1 126.7h0M422.1 126.3h0M422.1 125.3h0M422.1 127.6h0M422.1 124.5h0M422.2 125.4h0M422.2 122.6h0M422.2 129.6h0M422.2 125.1h0M422.2 126.2h0M422.2 128.8h0M422.2 125.1h0M422.2 124h0M422.2 127.1h0M422.2 128h0M422.3 126.7h0M422.3 123h0M422.3 121h0M422.3 119.9h0M422.3 125.8h0M422.3 122.8h0M422.3 123.3h0M422.3 123.6h0M422.4 122.2h0M422.4 120.5h0M422.4 129.9h0M422.4 124.3h0M422.4 122h0M422.4 121.3h0M422.4 112.3h0M422.4 120.1h0M422.4 121.9h0M422.4 123.2h0M422.4 118.7h0M422.5 120.2h0M422.5 119.4h0M422.5 115.8h0M422.5 121.2h0M422.5 116.7h0M422.5 119h0M422.5 118.3h0M422.5 119.5h0M422.5 122.4h0M422.5 116.2h0M422.5 115.2h0M422.5 118.2h0M422.5 120.6h0M422.5 121.6h0M422.5 117.6h0M422.6 128.3h0M422.6 120h0M422.6 117h0M422.6 119.2h0M422.6 113h0M422.7 117.4h0M422.7 116.8h0M422.7 118.6h0M422.7 115.5h0M422.7 114.7h0M422.7 117.1h0M422.7 116h0M422.7 118h0M422.7 113.4h0M422.7 113.8h0M422.7 115.5h0M422.7 116.5h0M422.8 124.8h0M422.8 114.3h0M422.8 114h0M422.8 111.8h0M422.8 113h0M422.8 110.8h0M422.8 109.5h0M422.8 112.7h0M422.8 115.3h0M422.8 112.8h0M422.8 110.3h0M422.9 111.4h0M422.9 112.3h0M422.9 114.7h0M422.9 113.7h0M422.9 114.2h0M422.9 117.7h0M422.9 107.9h0M422.9 108.7h0M422.9 111h0M423 109.8h0M423 108.2h0M423 111.1h0M423 109h0M423 106.2h0M423 106.7h0M423 105.4h0M423 105.8h0M423.1 110.8h0M423.1 107.5h0M423.1 111.7h0M423.1 111.8h0M423.1 104.2h0M423.1 110.1h0M423.1 105h0M423.1 110.2h0M423.1 106.3h0M423.2 108.4h0M423.2 106.8h0M423.2 109.5h0M423.2 109.2h0M423.2 96.4h0M423.2 107.5h0M423.2 107.9h0M423.2 102h0M423.2 103.8h0M423.2 108.7h0M423.3 104.8h0M423.3 90.2h0M423.3 100.4h0M423.3 103.6h0M423.3 89.6h0M423.3 103.5h0M423.3 103.1h0M423.3 102.7h0M423.3 100.6h0M423.3 92.9h0M423.3 107.2h0M423.3 94.4h0M423.3 103.2h0M423.3 102.3h0M423.3 103.9h0M423.3 106.1h0M423.4 105.5h0M423.4 99h0M423.4 104.5h0M423.4 99.9h0M423.4 101.4h0M423.4 91.2h0M423.4 102.7h0M423.4 101.1h0M423.4 102.4h0M423.4 105.1h0M423.4 101.6h0M423.4 98.2h0M423.4 104.7h0M423.4 99.2h0M423.5 101.1h0M423.5 100.7h0M423.5 107.1h0M423.5 97.9h0M423.5 94.7h0M423.5 99.6h0M423.5 102h0M423.5 97h0M423.5 95.8h0M423.5 99.5h0M423.5 97.9h0M423.5 96.7h0M423.5 97.2h0M423.5 96.9h0M423.5 94h0M423.5 100.5h0M423.5 98.8h0M423.5 97.5h0M423.5 95h0M423.6 95.5h0M423.6 98.5h0M423.6 97.5h0M423.6 94.3h0M423.6 92.8h0M423.6 91.1h0M423.6 95.5h0M423.6 95.3h0M423.6 100.1h0M423.6 90.7h0M423.6 93h0M423.7 92.4h0M423.7 91.4h0M423.7 92.1h0M423.7 91.7h0M423.7 94.1h0M423.7 89h0M423.7 98.4h0M423.7 96h0M423.7 96.5h0M423.7 93.2h0M423.7 93.4h0M423.7 88h0M423.7 94.7h0M423.8 93.6h0M423.8 88.6h0M423.8 87h0M423.8 90.9h0M423.8 92.4h0M423.8 89.8h0M423.9 87.5h0M423.9 89.9h0M423.9 86.7h0M423.9 91.7h0M423.9 88.2h0M423.9 85.9h0M423.9 90.5h0M424 86.3h0M424 85.5h0M424.1 89.7h0M424.1 89.1h0M424.1 88.8h0M424.1 88.4h0M424.1 84.6h0M424.2 84.4h0M424.2 85h0M424.2 88.1h0M424.4 83.7h0M424.4 87.6h0M424.5 87.3h0M424.5 83.9h0M424.7 86.9h0M424.9 83.3h0M424.9 86.6h0M425.2 86.4h0M425.2 83.1h0M425.5 86.1h0M425.6 82.8h0M425.9 85.9h0M425.9 82.6h0M426.9 82.5h0M426.9 85.7h0M427.9 82.5h0M427.9 85.7h0M428.9 82.5h0M428.9 85.7h0M429.9 82.5h0M429.9 85.7h0M430.9 82.5h0M430.9 85.7h0M431.9 82.5h0M431.9 85.7h0M432.9 82.5h0M432.9 85.7h0M433.9 82.5h0M433.9 85.7h0M434.9 82.5h0M434.9 85.7h0M435.9 82.5h0M435.9 85.7h0M436.9 82.5h0M436.9 85.7h0M437.9 82.5h0M437.9 85.7h0M438.9 82.5h0M438.9 85.7h0M439.9 82.5h0M439.9 85.7h0M440.9 82.5h0M440.9 85.7h0M441.9 82.5h0M441.9 85.7h0M442.9 82.5h0M442.9 85.7h0M443.9 82.5h0M443.9 85.7h0M444.9 82.5h0M444.9 85.7h0M445.9 82.5h0M445.9 85.7h0M446.9 82.5h0M446.9 85.7h0M447.9 82.5h0M447.9 85.7h0M448.9 82.5h0M448.9 85.7h0M449.9 82.5h0M449.9 85.7h0M450.9 82.5h0M450.9 85.7h0M451.9 82.5h0M451.9 85.7h0M452.9 82.5h0M452.9 85.7h0M453.9 82.5h0M453.9 85.7h0M454.9 82.5h0M454.9 85.7h0M455.9 82.5h0M455.9 85.7h0M456.9 82.5h0M456.9 85.7h0M457.9 82.5h0M457.9 85.7h0M458.9 82.5h0M458.9 85.7h0M459.9 82.5h0M459.9 85.7h0M460.9 82.5h0M460.9 85.7h0M461.9 82.5h0M461.9 85.7h0M462.9 82.5h0M462.9 85.7h0M463.9 82.5h0M463.9 85.7h0M464.9 82.5h0M464.9 85.7h0M465.9 82.5h0M465.9 85.7h0M466.9 82.5h0M466.9 85.7h0M467.9 82.5h0M467.9 85.7h0M468.9 82.5h0M468.9 85.7h0M469.9 82.5h0M469.9 85.7h0M470.9 82.5h0M470.9 85.7h0M471.9 82.5h0M471.9 85.7h0M472.9 82.5h0M472.9 85.7h0M473.9 82.5h0M473.9 85.7h0M474.9 82.5h0M474.9 85.7h0M475.9 82.5h0M475.9 85.7h0M476.9 82.5h0M476.9 85.7h0M477.9 82.5h0M477.9 85.7h0M478.9 82.5h0M478.9 85.7h0M479.9 82.5h0M479.9 85.7h0M480.9 82.5h0M480.9 85.7h0M481.9 82.5h0M481.9 85.7h0M482.9 82.5h0M482.9 85.7h0M483.9 82.5h0M483.9 85.7h0M484.9 82.5h0M484.9 85.7h0M485.9 82.5h0M485.9 85.7h0M486.9 82.5h0M486.9 85.7h0M487.9 82.5h0M487.9 85.7h0M488.9 82.5h0M488.9 85.7h0M489.9 82.5h0M489.9 85.7h0M490.9 82.5h0M490.9 85.7h0M491.9 82.5h0M491.9 85.7h0M492.9 82.5h0M492.9 85.7h0M493.9 82.5h0M493.9 85.7h0M494.9 82.5h0M494.9 85.7h0M495.9 82.5h0M495.9 85.7h0M496.9 82.5h0M496.9 85.7h0M497.9 82.5h0M497.9 85.7h0M498.9 82.5h0M498.9 85.7h0M499.9 82.5h0M499.9 85.7h0M500.9 82.5h0M500.9 85.7h0M501.9 82.5h0M501.9 85.7h0M502.9 82.5h0M502.9 85.7h0M503.9 82.5h0M503.9 85.7h0M504.9 82.5h0M504.9 85.7h0M505.9 82.5h0M505.9 85.7h0M506.9 82.5h0M506.9 85.7h0M507.9 82.5h0M507.9 85.7h0M508.9 82.5h0M508.9 85.7h0M509.9 82.5h0M509.9 85.7h0M510.9 82.5h0M510.9 85.7h0M511.9 82.5h0M511.9 85.7h0M512.9 82.5h0M512.9 85.7h0M513.9 82.5h0M513.9 85.7h0M514.9 82.5h0M514.9 85.7h0M515.9 82.5h0M515.9 85.7h0M516.9 82.5h0M516.9 85.7h0M517.9 82.5h0M517.9 85.7h0M518.9 82.5h0M518.9 85.7h0M519.9 82.5h0M519.9 85.7h0M520.9 82.5h0M520.9 85.7h0M521.9 82.5h0M521.9 85.7h0M522.9 82.5h0M522.9 85.7h0M523.9 82.5h0M523.9 85.7h0M524.9 82.5h0M524.9 85.7h0M525.9 82.5h0M525.9 85.7h0M526.9 82.5h0M526.9 85.7h0M527.9 82.5h0M527.9 85.7h0M528.9 82.5h0M528.9 85.7h0M529.9 82.5h0M529.9 85.7h0M530.9 82.5h0M530.9 85.7h0M531.9 82.5h0M531.9 85.7h0M532.9 82.5h0M532.9 85.7h0M533.9 82.5h0M533.9 85.7h0M534.9 82.5h0M534.9 85.7h0M535.9 82.5h0M535.9 85.7h0M536.9 82.5h0M536.9 85.7h0M537.9 82.5h0M537.9 85.7h0M538.9 82.5h0M538.9 85.7h0M539.9 82.5h0M539.9 85.7h0M540.9 82.5h0M540.9 85.7h0M541.9 82.5h0M541.9 85.7h0M542.9 82.5h0M542.9 85.7h0M543.9 82.5h0M543.9 85.7h0M544.5 80.6h0M544.9 82.5h0M544.9 85.7h0M545.5 86.3h0M545.9 82.5h0M545.9 85.7h0M546.9 82.5h0M546.9 85.7h0M547.9 82.5h0M547.9 85.7h0M548.9 82.5h0M548.9 85.7h0M549.9 82.5h0M549.9 85.7h0M550.9 82.5h0M550.9 85.7h0M551.9 82.5h0M551.9 85.7h0M552.9 82.5h0M552.9 85.7h0M553.9 82.5h0M553.9 85.7h0M554.9 82.5h0M554.9 85.7h0M555.9 82.5h0M555.9 85.7h0M556.9 82.5h0M556.9 85.7h0M557.9 82.5h0M557.9 85.7h0M558.9 82.5h0M558.9 85.7h0M559.9 82.5h0M559.9 85.7h0M560.9 82.5h0M560.9 85.7h0M561.9 82.5h0M561.9 85.7h0M562.9 82.5h0M562.9 85.7h0M563.9 82.5h0M563.9 85.7h0M564.9 82.5h0M564.9 85.7h0M565.9 82.5h0M565.9 85.7h0M566.9 82.5h0M566.9 85.7h0M567.9 82.5h0M567.9 85.7h0M568.9 82.5h0M568.9 85.7h0M569.9 82.5h0M569.9 85.7h0M570.9 82.5h0M570.9 85.7h0M571.9 82.5h0M571.9 85.7h0M572.9 82.5h0M572.9 85.7h0M573.9 82.5h0M573.9 85.7h0M574.9 82.5h0M574.9 85.7h0M575.9 82.5h0M575.9 85.7h0M576.9 82.5h0M576.9 85.7h0M577.9 82.5h0M577.9 85.7h0M578.9 82.5h0M578.9 85.7h0M579.9 82.5h0M579.9 85.7h0M580.9 82.5h0M580.9 85.7h0M581.9 82.5h0M581.9 85.7h0M582.9 82.5h0M582.9 85.7h0M583.9 82.5h0M583.9 85.7h0M584.9 82.5h0M584.9 85.7h0M585.9 82.5h0M585.9 85.7h0M586.5 79.9h0M586.9 82.5h0M586.9 85.7h0M587.4 77.9h0M587.9 82.5h0M587.9 85.7h0M588.9 82.5h0M588.9 85.7h0M589.6 79.8h0M589.9 82.5h0M589.9 85.7h0M590.9 82.5h0M590.9 85.7h0M591.8 81.2h0M591.9 82.5h0M591.9 85.7h0M592.9 82.5h0M592.9 85.7h0M593.9 82.5h0M593.9 85.7h0M594.5 82h0M594.9 82.5h0M594.9 85.7h0M595.9 82.5h0M595.9 85.7h0M596.9 82.5h0M596.9 85.7h0M597.9 82.5h0M597.9 85.7h0M598.9 82.5h0M598.9 85.7h0M599.2 81.5h0M599.9 82.5h0M599.9 85.7h0M600.9 82.5h0M600.9 85.7h0M601.9 82.5h0M601.9 85.7h0M602.9 82.5h0M602.9 85.7h0M603.9 82.5h0M603.9 85.7h0M604.9 82.5h0M604.9 85.7h0M605.9 82.5h0M605.9 85.7h0M606.9 82.5h0M606.9 85.7h0M607.9 82.5h0M607.9 85.7h0M608.9 82.5h0M608.9 85.7h0M609.9 82.5h0M609.9 85.7h0M610.9 82.5h0M610.9 85.7h0M611.9 82.5h0M611.9 85.7h0M612.9 82.5h0M612.9 85.7h0M613.9 82.5h0M613.9 85.7h0M614.9 82.5h0M614.9 85.7h0M615.9 82.5h0M615.9 85.7h0M616.9 82.5h0M616.9 85.7h0M617.9 82.5h0M617.9 85.7h0M618.9 82.5h0M618.9 85.7h0M619.9 82.5h0M619.9 85.7h0M620.9 82.5h0M620.9 85.7h0M621.9 82.5h0M621.9 85.7h0M622.9 82.5h0M622.9 85.7h0M623.9 82.5h0M623.9 85.7h0M624.9 82.5h0M624.9 85.7h0M625.9 82.5h0M625.9 85.7h0M626.9 82.5h0M626.9 85.7h0M627.9 82.5h0M627.9 85.7h0M628.9 82.5h0M628.9 85.7h0M629.8 82.5h0M629.9 85.8h0M630.8 82.8h0M630.9 86.1h0M631.1 83h0M631.1 86.3h0M631.2 87.9h0M631.3 83.3h0M631.4 86.5h0M631.5 83.5h0M631.6 87.2h0M631.7 84.6h0M631.8 86.9h0M631.9 83.9h0M631.9 86.5h0M631.9 86.1h0M632 88.8h0M632 85.4h0M632.1 95.2h0M632.2 85h0M632.2 91.8h0M632.3 87.4h0M632.3 87.7h0M632.3 90.4h0M632.3 89.1h0M632.3 85.9h0M632.3 91.6h0M632.4 92.3h0M632.4 89.6h0M632.4 84.2h0M632.4 93h0M632.4 94.7h0M632.5 90.3h0M632.5 88.3h0M632.5 88.2h0M632.5 97.8h0M632.6 90.7h0M632.6 97.1h0M632.6 94.3h0M632.6 91.7h0M632.6 93.8h0M632.7 91.1h0M632.7 92.6h0M632.7 91.1h0M632.7 92.2h0M632.7 99.8h0M632.7 93.9h0M632.7 90.7h0M632.7 87h0M632.8 91.4h0M632.9 98.3h0M632.9 89.1h0M632.9 93.1h0M632.9 94.1h0M633 89.9h0M633 92.7h0M633 96.2h0M633 94.9h0M633 98.6h0M633.1 96.3h0M633.1 98.5h0M633.1 96.9h0M633.1 95.6h0M633.1 96.6h0M633.1 102.3h0M633.2 103.4h0M633.2 93.6h0M633.2 96.7h0M633.2 101h0M633.2 100.5h0M633.2 104.9h0M633.2 89.7h0M633.2 97.6h0M633.2 89.4h0M633.3 94.7h0M633.3 88.6h0M633.3 101.4h0M633.3 104h0M633.3 97.3h0M633.3 103h0M633.4 103.2h0M633.4 102.5h0M633.5 99.4h0M633.5 95.9h0M633.5 106.7h0M633.5 93.3h0M633.5 100.3h0M633.5 87.7h0M633.5 101.8h0M633.5 100.2h0M633.6 102.7h0M633.6 98.9h0M633.6 104.2h0M633.6 95.5h0M633.7 95.8h0M633.7 103h0M633.7 99.4h0M633.7 103.8h0M633.8 104.5h0M633.8 101.8h0M633.8 106.5h0M633.8 104.6h0M633.8 107.8h0M633.8 106.1h0M633.8 104.2h0M633.9 107.3h0M633.9 99.8h0M633.9 107.4h0M633.9 98.2h0M633.9 97.9h0M633.9 105.6h0M633.9 112.6h0M634 101.5h0M634 100.8h0M634 99h0M634 111.7h0M634 108.6h0M634.1 111.1h0M634.1 109.5h0M634.1 115.4h0M634.1 100.6h0M634.1 108.9h0M634.1 108.5h0M634.1 115h0M634.2 102.1h0M634.2 106.2h0M634.2 105.6h0M634.2 112.1h0M634.2 105.9h0M634.3 109.8h0M634.3 112.4h0M634.3 107h0M634.3 108.2h0M634.3 112.1h0M634.4 110.8h0M634.4 105.4h0M634.5 114.5h0M634.5 115.6h0M634.5 105h0M634.5 110h0M634.5 109h0M634.5 115.7h0M634.6 118.4h0M634.6 110.1h0M634.6 110.2h0M634.6 106.9h0M634.6 120.1h0M634.7 117.5h0M634.7 116.8h0M634.7 110.5h0M634.7 113.9h0M634.7 111.3h0M634.7 113.3h0M634.7 109.3h0M634.7 119.2h0M634.8 118.9h0M634.8 114.3h0M634.8 113h0M634.8 108.2h0M634.8 119.1h0M634.9 116.5h0M634.9 113.4h0M634.9 116.2h0M634.9 111.5h0M634.9 124.9h0M634.9 107.7h0M635 127h0M635 120.1h0M635 118.6h0M635 122.6h0M635 112.8h0M635 111.7h0M635 117.1h0M635.1 125.8h0M635.1 122.1h0M635.1 110.6h0M635.1 127.8h0M635.1 121.9h0M635.1 121h0M635.1 124.4h0M635.1 116h0M635.1 124.1h0M635.1 114.7h0M635.1 125.7h0M635.2 124.5h0M635.2 113.8h0M635.2 126.1h0M635.2 121.7h0M635.2 117.2h0M635.3 120.7h0M635.3 121.4h0M635.3 119.3h0M635.3 122.1h0M635.3 114.8h0M635.4 116.5h0M635.4 125.3h0M635.4 122.9h0M635.4 117.9h0M635.4 119.8h0M635.4 119.7h0M635.4 123.8h0M635.5 127.1h0M635.5 115.4h0M635.5 118.2h0M635.5 117.8h0M635.5 121h0M635.5 126.5h0M635.6 131h0M635.6 118h0M635.6 127.8h0M635.6 122.6h0M635.6 128.5h0M635.6 128.5h0M635.6 125h0M635.6 132.1h0M635.6 128.2h0M635.7 130.2h0M635.7 134.8h0M635.7 125.3h0M635.7 114.2h0M635.7 132.8h0M635.7 126.7h0M635.7 123.3h0M635.8 127.2h0M635.8 123.8h0M635.8 132.9h0M635.8 133.2h0M635.8 137.8h0M635.8 121.3h0M635.8 122.9h0M635.8 120.5h0M635.8 129.3h0M635.9 134.1h0M635.9 135.7h0M635.9 134.6h0M635.9 131h0M635.9 139.7h0M636 130.5h0M636 137.1h0M636 124.1h0M636 131.2h0M636 138.8h0M636 123.3h0M636 136.9h0M636 130.7h0M636.1 136h0M636.1 129.8h0M636.1 131.8h0M636.1 131.4h0M636.1 136.5h0M636.1 139.5h0M636.1 140.9h0M636.2 129h0M636.2 129h0M636.2 129.5h0M636.2 132.2h0M636.2 127.2h0M636.2 138.9h0M636.2 136.1h0M636.3 149h0M636.3 140.1h0M636.3 137.7h0M636.3 140.9h0M636.3 128.1h0M636.3 141.7h0M636.4 142.5h0M636.4 142.4h0M636.4 126.1h0M636.4 137.3h0M636.4 133.4h0M636.4 134.1h0M636.5 133.7h0M636.5 133.6h0M636.5 132.5h0M636.5 135.4h0M636.5 142.3h0M636.5 138.5h0M636.5 137.3h0M636.5 130.1h0M636.5 135.7h0M636.6 142.1h0M636.6 139.6h0M636.6 144.8h0M636.6 143.7h0M636.6 148.1h0M636.6 132.5h0M636.7 145.3h0M636.7 143.9h0M636.7 140.2h0M636.7 138.3h0M636.7 149.3h0M636.7 134.5h0M636.7 131.7h0M636.7 140.4h0M636.7 145.1h0M636.7 152.8h0M636.7 138.4h0M636.8 134.9h0M636.8 143.3h0M636.8 136.5h0M636.8 129.5h0M636.8 151.3h0M636.8 150.6h0M636.9 137.9h0M636.9 149.8h0M636.9 143.1h0M636.9 144.5h0M636.9 155.3h0M637 151h0M637 148.8h0M637 156.2h0M637 148.5h0M637 147.1h0M637 141.6h0M637 147h0M637 141.4h0M637 154.2h0M637 140.5h0M637 144.1h0M637 147.7h0M637 153.4h0M637.1 143.3h0M637.1 151.8h0M637.1 145.8h0M637.1 144.4h0M637.2 146h0M637.2 144.9h0M637.2 150.2h0M637.2 135.1h0M637.2 154h0M637.3 139.4h0M637.3 141.2h0M637.4 158.1h0M637.4 147.9h0M637.4 146.3h0M637.4 160.1h0M637.4 155.6h0M637.4 160.2h0M637.4 153.8h0M637.4 147.3h0M637.4 142.8h0M637.4 146.1h0M637.4 152.1h0M637.4 144h0M637.4 145.7h0M637.5 148.4h0M637.5 162.1h0M637.5 155.9h0M637.5 156.9h0M637.5 146.4h0M637.5 149.9h0M637.5 161.6h0M637.5 147.6h0M637.5 152.7h0M637.5 157.2h0M637.5 150.4h0M637.5 157.9h0M637.5 158.5h0M637.6 160.5h0M637.6 161.1h0M637.6 151.7h0M637.6 149.3h0M637.6 159.7h0M637.6 161.4h0M637.6 150.9h0M637.6 152.3h0M637.6 159.2h0M637.6 155.8h0M637.7 159.6h0M637.7 162.8h0M637.7 158.4h0M637.7 146.7h0M637.7 165.3h0M637.8 149.6h0M637.8 155h0M637.8 164.6h0M637.8 155.1h0M637.8 156.5h0M637.8 162h0M637.8 154.6h0M637.8 166.4h0M637.8 152.5h0M637.8 157h0M637.9 164.8h0M637.9 152.2h0M637.9 162.9h0M637.9 154.3h0M638 153.5h0M638 165.2h0M638 157.3h0M638.1 151.3h0M638.1 160.8h0M638.1 168.6h0M638.1 157.7h0M638.1 168.3h0M638.1 164.8h0M638.2 156.6h0M638.2 153.2h0M638.2 154.9h0M638.2 169h0M638.2 164.1h0M638.2 171.2h0M638.2 159h0M638.3 160.8h0M638.3 158.7h0M638.3 157.5h0M638.3 163.4h0M638.3 172h0M638.3 174.4h0M638.3 172.3h0M638.3 169.3h0M638.3 180.1h0M638.4 160.5h0M638.4 163.3h0M638.4 162.4h0M638.4 170.1h0M638.4 173.8h0M638.4 165.6h0M638.4 167h0M638.4 172.4h0M638.4 167.1h0M638.4 164.1h0M638.5 167.4h0M638.5 176.6h0M638.5 163.8h0M638.5 172.8h0M638.5 173.4h0M638.5 163.5h0M638.6 161.6h0M638.6 159.2h0M638.6 165.6h0M638.6 162.5h0M638.6 178h0M638.6 174.7h0M638.6 170.9h0M638.7 174h0M638.7 166h0M638.7 173.2h0M638.7 178h0M638.7 168h0M638.8 170.4h0M638.8 175.9h0M638.8 170h0M638.9 180.8h0M638.9 166h0M638.9 176h0M638.9 175.7h0M638.9 168.1h0M638.9 178.9h0M638.9 175.6h0M638.9 168.8h0M638.9 164.5h0M638.9 166.4h0M638.9 171.8h0M639 170.5h0M639 167.8h0M639 170.7h0M639 171.2h0M639 184.9h0M639 181.3h0M639.1 176.8h0M639.1 166.8h0M639.1 171.5h0M639.1 175.4h0M639.1 173.2h0M639.1 169h0M639.1 177.1h0M639.1 176.2h0M639.1 182.8h0M639.1 169.5h0M639.1 179.7h0M639.1 179.6h0M639.2 180.6h0M639.2 183.6h0M639.2 186.5h0M639.2 174h0M639.2 179.2h0M639.2 169.8h0M639.2 177.8h0M639.3 183.6h0M639.3 174.4h0M639.3 185h0M639.3 183.1h0M639.3 180h0M639.3 176.7h0M639.3 172.8h0M639.4 185.6h0M639.4 174.9h0M639.4 167.1h0M639.4 178.4h0M639.4 171.9h0M639.4 182.1h0M639.4 180.6h0M639.4 187.2h0M639.4 184.3h0M639.5 186.9h0M639.5 181.6h0M639.5 181.4h0M639.5 186.1h0M639.5 177.1h0M639.5 190.4h0M639.6 188.5h0M639.6 185.5h0M639.6 187.5h0M639.6 188.8h0M639.6 193.2h0M639.7 186.2h0M639.7 192.4h0M639.7 175.2h0M639.7 181.2h0M639.7 184.6h0M639.7 177.7h0M639.7 186.7h0M639.7 180.3h0M639.8 184h0M639.8 184.5h0M639.8 194.8h0M639.8 182.4h0M639.8 182.4h0M639.8 178.8h0M639.9 191.9h0M639.9 192.6h0M639.9 197.9h0M639.9 178.4h0M639.9 191.2h0M640 181.8h0M640 182.7h0M640 203.1h0M640 192.8h0M640 193.6h0M640 195.5h0M640 188.7h0M640 195.5h0M640.1 184.1h0M640.1 183.2h0M640.1 197.1h0M640.1 179.4h0M640.1 188h0M640.1 193.6h0M640.1 188h0M640.1 199.6h0M640.1 196h0M640.1 188.3h0M640.1 190.9h0M640.2 189.7h0M640.2 189.3h0M640.2 194h0M640.2 202.8h0M640.2 191.1h0M640.2 196h0M640.3 198.3h0M640.3 185.2h0M640.3 185.9h0M640.3 194.8h0M640.3 200.3h0M640.3 191.8h0M640.4 190.3h0M640.4 201.4h0M640.4 192.2h0M640.4 194.2h0M640.4 203.7h0M640.4 187.6h0M640.4 199h0M640.4 190.6h0M640.4 200h0M640.4 187.1h0M640.5 205.1h0M640.5 190.1h0M640.5 204.5h0M640.5 199.6h0M640.5 209.1h0M640.5 200.8h0M640.5 197.2h0M640.6 196.2h0M640.6 202.4h0M640.6 201.5h0M640.6 189.9h0M640.6 207.3h0M640.6 191.7h0M640.6 196.4h0M640.6 189h0M640.6 200.6h0M640.6 203.5h0M640.6 200.2h0M640.7 198.6h0M640.7 205.5h0M640.7 198h0M640.7 203h0M640.7 195.3h0M640.7 193.8h0M640.7 191.5h0M640.8 193.1h0M640.8 209.6h0M640.8 196.9h0M640.8 201h0M640.9 208.9h0M640.9 189.5h0M640.9 194.5h0M640.9 198.7h0M640.9 198.4h0M640.9 196.8h0M640.9 201.8h0M640.9 206.7h0M640.9 204.4h0M641 217.3h0M641 201.3h0M641 206.3h0M641 204.9h0M641 205.5h0M641 207.5h0M641.1 210.9h0M641.1 197.5h0M641.1 204h0M641.1 202.3h0M641.1 197.6h0M641.1 210.6h0M641.1 195.1h0M641.1 213.2h0M641.1 206.2h0M641.2 199.3h0M641.2 211.6h0M641.2 219.1h0M641.2 208h0M641.2 199.9h0M641.2 208.5h0M641.2 203.8h0M641.2 214h0M641.2 207h0M641.2 215h0M641.2 216.7h0M641.3 209.5h0M641.3 211.8h0M641.3 210.3h0M641.3 207.5h0M641.3 218.4h0M641.4 202h0M641.4 210.1h0M641.4 205.1h0M641.4 211.8h0M641.5 218.3h0M641.5 221h0M641.5 206h0M641.5 208.7h0M641.5 218h0M641.5 206.7h0M641.5 214.7h0M641.6 218.7h0M641.6 216.3h0M641.6 202.7h0M641.6 212.7h0M641.6 214.9h0M641.6 213.6h0M641.6 214.2h0M641.6 220.3h0M641.7 213.1h0M641.7 216.6h0M641.7 216.3h0M641.7 214.5h0M641.7 204.8h0M641.7 208h0M641.7 221.9h0M641.7 205.8h0M641.7 221.6h0M641.7 211.5h0M641.7 215.6h0M641.7 217.7h0M641.8 212.3h0M641.8 220h0M641.8 219.1h0M641.8 221h0M641.8 213.5h0M641.8 211h0M641.8 212.4h0M641.9 223.6h0M641.9 224.3h0M641.9 221.9h0M641.9 217.8h0M641.9 215.2h0M641.9 211.3h0M641.9 226.6h0M641.9 210.4h0M641.9 215.8h0M641.9 212.7h0M641.9 219.8h0M641.9 223.9h0M641.9 209h0M641.9 208.2h0M642 218.8h0M642 209.8h0M642 216h0M642 215.4h0M642 217h0M642.1 228.3h0M642.1 224.6h0M642.1 219.6h0M642.1 223.4h0M642.1 213.8h0M642.1 222.1h0M642.1 228.6h0M642.1 226.4h0M642.2 227.7h0M642.2 225.2h0M642.3 223h0M642.3 224.9h0M642.3 225.9h0M642.3 227.1h0M642.3 222.6h0M642.3 220.4h0M642.3 230.7h0M642.3 224.8h0M642.4 217.5h0M642.4 229.6h0M642.4 223.2h0M642.4 228.3h0M642.4 229.1h0M642.5 223.8h0M642.5 226h0M642.5 230.4h0M642.5 225.7h0M642.5 222.4h0M642.6 219.5h0M642.6 222.9h0M642.6 231.6h0M642.6 233.1h0M642.6 220.7h0M642.6 230.2h0M642.7 227.9h0M642.7 227.8h0M642.7 224.2h0M642.7 221.5h0M642.8 220.7h0M642.8 232.7h0M642.8 229.8h0M642.8 228.6h0M642.9 234.9h0M642.9 225.5h0M643 230.9h0M643 226.2h0M643 235.4h0M643 232.3h0M643.1 234.6h0M643.1 231.1h0M643.1 232.6h0M643.2 233.5h0M643.2 227.5h0M643.2 229.4h0M643.2 236.4h0M643.3 232.4h0M643.3 226.6h0M643.3 229.7h0M643.4 226.9h0M643.4 235.8h0M643.4 230.5h0M643.4 233.9h0M643.4 229.1h0M643.5 231.8h0M643.6 237.4h0M643.6 232.9h0M643.7 235h0M643.7 237.7h0M643.9 231.9h0M643.9 231.4h0M644.1 233.2h0M644.1 234.2h0M644.1 236.6h0M644.3 234h0M644.3 237h0M644.3 233.8h0M644.3 234.6h0M644.4 235.6h0M644.4 238.1h0M644.5 238.9h0M644.5 238.6h0M644.7 235.2h0M644.8 239h0M644.9 235.8h0M645.1 235.9h0M645.2 239.2h0M645.5 239.4h0M645.5 236.1h0M645.9 236h0M646 239.3h0M646.2 235.9h0M646.3 239.1h0M646.5 235.3h0M646.7 235.7h0M646.7 235h0M646.7 239h0M646.8 234.4h0M646.8 233.8h0M646.8 237.9h0M646.9 237.5h0M647 238.5h0M647.1 236.8h0M647.2 233h0M647.3 234.7h0M647.3 238.7h0M647.3 234.1h0M647.4 234.9h0M647.4 231.6h0M647.5 232.6h0M647.5 233.6h0M647.6 232.3h0M647.6 236.1h0M647.6 237.1h0M647.7 232.7h0M647.7 236.3h0M647.8 232.1h0M647.8 230.5h0M647.9 235.6h0M647.9 233.5h0M647.9 230.9h0M647.9 229.8h0M648 227.1h0M648 234.6h0M648 228.8h0M648 231.2h0M648.1 229.5h0M648.1 228.9h0M648.1 230.8h0M648.2 225.7h0M648.2 224.5h0M648.2 223.5h0M648.2 235.1h0M648.3 230.1h0M648.3 226.6h0M648.3 232h0M648.3 227.6h0M648.4 222.8h0M648.4 226.7h0M648.4 225.9h0M648.4 223.3h0M648.4 221.7h0M648.4 224.8h0M648.4 228.6h0M648.5 221.9h0M648.5 230.2h0M648.5 232.4h0M648.5 224.1h0M648.6 233.3h0M648.6 230.5h0M648.6 222.5h0M648.7 218.8h0M648.7 226.8h0M648.7 220h0M648.7 229.1h0M648.7 231.2h0M648.7 228.3h0M648.8 213.3h0M648.8 226.3h0M648.9 231.6h0M648.9 219.3h0M648.9 228.1h0M648.9 223.8h0M648.9 224.5h0M648.9 218.1h0M648.9 215.4h0M648.9 229.3h0M649 219.7h0M649 216.1h0M649 227.4h0M649 214.9h0M649 223h0M649.1 221.3h0M649.1 224h0M649.1 212.8h0M649.1 217.8h0M649.2 225.3h0M649.2 214.5h0M649.2 228h0M649.2 226h0M649.2 219.7h0M649.2 209.8h0M649.2 212.2h0M649.2 210.4h0M649.2 217.2h0M649.3 222.3h0M649.3 216.8h0M649.3 227.6h0M649.3 214.8h0M649.3 224.9h0M649.3 218.5h0M649.3 221.8h0M649.4 209.4h0M649.4 220.9h0M649.4 222.3h0M649.4 225.3h0M649.4 225.8h0M649.4 212.7h0M649.4 212.1h0M649.4 220.5h0M649.5 207.2h0M649.5 213.1h0M649.5 205.7h0M649.5 223.4h0M649.5 218.6h0M649.5 217.3h0M649.5 204.5h0M649.5 206h0M649.5 216.6h0M649.5 213.6h0M649.5 216.9h0M649.6 209.3h0M649.6 210h0M649.6 203.3h0M649.6 208.3h0M649.6 217.5h0M649.6 220h0M649.6 211.1h0M649.6 213.8h0M649.6 220.4h0M649.7 209h0M649.7 198h0M649.7 214.6h0M649.8 214.1h0M649.8 208.3h0M649.8 203.6h0M649.8 219.2h0M649.8 208.9h0M649.8 203.4h0M649.8 221.3h0M649.8 208.2h0M649.8 216.4h0M649.8 204.6h0M649.8 211.7h0M649.8 205.3h0M649.8 207.3h0M649.8 205h0M649.8 215.9h0M649.9 218.9h0M649.9 198.5h0M649.9 212.5h0M649.9 201.5h0M649.9 202.4h0M649.9 207.6h0M649.9 213.2h0M649.9 214.2h0M649.9 206.6h0M649.9 208.5h0M649.9 218.2h0M650 204.1h0M650 210.1h0M650 215.3h0M650 221h0M650 205.7h0M650 211.3h0M650.1 199.2h0M650.1 203h0M650.1 199.1h0M650.1 210.8h0M650.1 199.7h0M650.1 203h0M650.2 200.4h0M650.2 205h0M650.2 215.9h0M650.2 209.9h0M650.2 198.9h0M650.2 205.2h0M650.2 210.8h0M650.2 200.9h0M650.2 207.8h0M650.2 201.2h0M650.2 206.8h0M650.3 210.5h0M650.3 194.6h0M650.3 195.4h0M650.3 204.1h0M650.3 200.8h0M650.3 198.6h0M650.3 211.7h0M650.3 202.2h0M650.3 215.8h0M650.3 193.7h0M650.4 194.2h0M650.4 196.6h0M650.4 206.9h0M650.4 206.1h0M650.5 195.7h0M650.5 201.7h0M650.5 206.5h0M650.5 197.7h0M650.6 194.5h0M650.6 202.2h0M650.6 187.6h0M650.6 196h0M650.6 196.9h0M650.6 197.3h0M650.6 199.8h0M650.7 193.6h0M650.7 193h0M650.7 190.4h0M650.7 200h0M650.7 197.7h0M650.7 200.2h0M650.7 193.3h0M650.8 192h0M650.8 201.7h0M650.8 196.1h0M650.8 196.6h0M650.8 190.8h0M650.8 196.9h0M650.8 203.8h0M650.9 197.2h0M650.9 192.6h0M650.9 198.1h0M651 193.3h0M651 189.4h0M651 185.7h0M651 183.6h0M651 194.8h0M651 189.3h0M651.1 192.6h0M651.1 202.7h0M651.1 200.6h0M651.1 199.4h0M651.1 191.5h0M651.1 186.1h0M651.1 195.8h0M651.1 190h0M651.1 195.4h0M651.1 191.7h0M651.2 194.1h0M651.2 182.6h0M651.2 189.7h0M651.2 184.7h0M651.3 186.5h0M651.3 181.6h0M651.3 195.1h0M651.3 187.1h0M651.3 191.3h0M651.3 188.8h0M651.3 193h0M651.4 192.2h0M651.4 188.6h0M651.4 188.2h0M651.4 190.3h0M651.4 185.5h0M651.4 188.4h0M651.4 187.7h0M651.4 188.1h0M651.4 182.5h0M651.4 185.2h0M651.4 176.8h0M651.5 179.4h0M651.5 185.1h0M651.5 184.2h0M651.5 179h0M651.5 177.3h0M651.5 179.9h0M651.5 191.8h0M651.5 174.4h0M651.5 178.7h0M651.5 177.7h0M651.5 173.9h0M651.6 185.8h0M651.6 184.2h0M651.6 177.5h0M651.6 187.2h0M651.6 177.8h0M651.6 183.1h0M651.6 183.4h0M651.6 187.4h0M651.6 190.9h0M651.7 181.4h0M651.7 180.6h0M651.7 189.8h0M651.7 171.4h0M651.7 179.7h0M651.7 176.1h0M651.7 178.1h0M651.7 181.4h0M651.7 178.2h0M651.8 190.5h0M651.8 174.2h0M651.8 180.2h0M651.8 186.7h0M651.8 180.7h0M651.8 186.9h0M651.8 184.8h0M651.8 172h0M651.8 186.1h0M651.9 169.3h0M651.9 182.1h0M651.9 170.9h0M651.9 175.4h0M651.9 179.3h0M651.9 170.4h0M651.9 173.3h0M651.9 181.9h0M652 184.6h0M652 183h0M652 170.6h0M652 181h0M652 188.9h0M652 174.2h0M652 182.2h0M652.1 175.4h0M652.1 171.8h0M652.1 167.8h0M652.1 176.2h0M652.2 183.5h0M652.2 168.2h0M652.2 178.9h0M652.2 175h0M652.2 177.2h0M652.2 183.8h0M652.2 178.5h0M652.2 176.6h0M652.2 180.9h0M652.2 172.7h0M652.2 166.5h0M652.2 168.3h0M652.2 166h0M652.3 170.1h0M652.3 169h0M652.3 163.8h0M652.4 170.1h0M652.4 180.1h0M652.4 169.7h0M652.4 162.5h0M652.4 173.7h0M652.5 166.6h0M652.5 167.9h0M652.5 173.4h0M652.5 161.8h0M652.5 171.8h0M652.5 167.5h0M652.6 176.7h0M652.6 171h0M652.6 175.8h0M652.6 165.5h0M652.6 169.1h0M652.6 163h0M652.6 172.6h0M652.6 174.7h0M652.6 165.6h0M652.7 162.2h0M652.7 164.4h0M652.7 160.7h0M652.7 172.8h0M652.7 166.3h0M652.8 168.6h0M652.8 175.1h0M652.8 162h0M652.8 163.8h0M652.8 172.4h0M652.8 159.4h0M652.8 159.5h0M652.8 175.7h0M652.8 161.4h0M652.9 160.3h0M652.9 162.9h0M652.9 173.2h0M652.9 158h0M652.9 165.9h0M652.9 166.9h0M653 161.2h0M653 168.6h0M653 155h0M653 156.3h0M653 171.4h0M653 153.4h0M653.1 164.8h0M653.1 163.6h0M653.1 164.2h0M653.2 160.5h0M653.2 169.7h0M653.2 169.5h0M653.2 159.8h0M653.2 159.7h0M653.2 164.5h0M653.2 165.6h0M653.2 157.6h0M653.2 162.1h0M653.2 154.2h0M653.3 156.5h0M653.3 163.3h0M653.3 159.1h0M653.3 167.1h0M653.3 160.9h0M653.3 158.5h0M653.3 165.1h0M653.3 152.2h0M653.4 153.1h0M653.4 159.1h0M653.4 167.2h0M653.4 161.4h0M653.5 165h0M653.5 156.3h0M653.5 154.7h0M653.5 150.5h0M653.6 149.1h0M653.6 146.7h0M653.6 152.4h0M653.6 155.6h0M653.6 148.3h0M653.6 151.4h0M653.6 151.1h0M653.6 148.7h0M653.7 146.3h0M653.7 150.2h0M653.7 160.1h0M653.7 153.4h0M653.7 154.1h0M653.7 144.9h0M653.7 143h0M653.7 158.2h0M653.8 150.2h0M653.8 151.9h0M653.8 151.4h0M653.8 157.5h0M653.8 136.9h0M653.8 146.8h0M653.8 158.3h0M653.8 157.4h0M653.8 149.8h0M653.9 149.1h0M653.9 155h0M653.9 156.9h0M653.9 147.8h0M653.9 157.1h0M653.9 146.3h0M653.9 152.5h0M653.9 147.4h0M653.9 155.3h0M654 144.8h0M654 158.7h0M654 145.8h0M654 153.8h0M654 141.8h0M654 150.6h0M654.1 148.3h0M654.1 162.8h0M654.1 141.4h0M654.1 154.7h0M654.1 153.7h0M654.1 156.7h0M654.1 155.9h0M654.1 152.6h0M654.1 142.7h0M654.1 143.8h0M654.1 140.5h0M654.2 140.3h0M654.2 151.8h0M654.2 144.1h0M654.2 142.2h0M654.2 143.4h0M654.2 147.9h0M654.2 155.9h0M654.2 153h0M654.2 139.7h0M654.2 149.8h0M654.3 149.5h0M654.3 149.5h0M654.3 143.5h0M654.3 145.5h0M654.3 137.7h0M654.3 147.6h0M654.3 141.7h0M654.3 143.8h0M654.3 148.5h0M654.3 145.8h0M654.4 137.5h0M654.4 144.7h0M654.4 136.1h0M654.4 132.6h0M654.4 147.1h0M654.4 146.9h0M654.4 139.5h0M654.4 143.1h0M654.4 135.1h0M654.5 145.1h0M654.5 151h0M654.6 137.8h0M654.6 132.6h0M654.6 129.1h0M654.6 144.3h0M654.7 139.1h0M654.7 134.5h0M654.7 141.1h0M654.7 128.3h0M654.7 138.4h0M654.7 145.5h0M654.7 140.2h0M654.7 136.5h0M654.8 138.4h0M654.8 142.7h0M654.8 138.7h0M654.8 130.8h0M654.8 142h0M654.8 130.4h0M654.8 130h0M654.8 128.6h0M654.8 133.1h0M654.8 135.8h0M654.9 131h0M654.9 127.1h0M654.9 142.3h0M654.9 130.3h0M654.9 141h0M654.9 134.4h0M654.9 129.8h0M655 128.7h0M655 138.6h0M655 124.7h0M655 128.3h0M655 139.2h0M655 132h0M655.1 120.2h0M655.1 139.8h0M655.1 135h0M655.1 125.2h0M655.2 137.9h0M655.2 127.4h0M655.2 140.8h0M655.2 139.4h0M655.2 131.1h0M655.2 132.2h0M655.3 126.8h0M655.3 135.4h0M655.3 135.3h0M655.3 121.4h0M655.3 136.2h0M655.3 124.3h0M655.3 133.5h0M655.3 119.2h0M655.3 127.5h0M655.3 134.3h0M655.3 122.4h0M655.4 133.6h0M655.4 137.3h0M655.4 121.1h0M655.4 136.7h0M655.4 126.2h0M655.4 127.9h0M655.5 122.8h0M655.5 134h0M655.5 130.8h0M655.5 134.8h0M655.5 136.4h0M655.5 132.4h0M655.5 129.1h0M655.5 125.8h0M655.5 123.9h0M655.5 131.9h0M655.6 122h0M655.6 118.8h0M655.6 129.7h0M655.6 120.4h0M655.6 122.2h0M655.6 124h0M655.6 133.3h0M655.6 119.5h0M655.7 120.9h0M655.7 124.3h0M655.7 129.3h0M655.8 119.9h0M655.8 119.5h0M655.8 127.7h0M655.8 133.8h0M655.8 123.1h0M655.8 125.4h0M655.9 131.4h0M655.9 116.8h0M655.9 112.7h0M655.9 121.5h0M655.9 125.7h0M656.1 123.2h0M656.1 112.3h0M656.1 126.6h0M656.1 113h0M656.1 126.4h0M656.1 118.2h0M656.1 125.2h0M656.1 126h0M656.1 131.4h0M656.1 124.6h0M656.2 127.1h0M656.2 119.2h0M656.2 111.9h0M656.2 121.9h0M656.2 123.6h0M656.2 112.5h0M656.2 123.7h0M656.2 115.8h0M656.2 117.3h0M656.3 120.7h0M656.3 119.8h0M656.3 114.8h0M656.3 117.5h0M656.3 117.4h0M656.4 117.9h0M656.4 118.7h0M656.4 107.4h0M656.4 118h0M656.4 114.8h0M656.4 109.1h0M656.4 111.1h0M656.4 122.8h0M656.4 111.3h0M656.5 110.7h0M656.5 116.6h0M656.5 121.1h0M656.5 115.5h0M656.5 113.6h0M656.6 114.2h0M656.6 113.5h0M656.6 117.2h0M656.6 106h0M656.6 118.4h0M656.6 108.4h0M656.6 115.6h0M656.7 111.5h0M656.7 116.2h0M656.7 108.6h0M656.7 116.4h0M656.7 113.9h0M656.7 110.4h0M656.7 109.3h0M656.8 116.1h0M656.8 110.4h0M656.8 114h0M656.8 115h0M656.8 115.2h0M656.8 107.2h0M656.9 112.1h0M656.9 110.9h0M656.9 105.5h0M656.9 105.2h0M656.9 102.3h0M656.9 101.5h0M657 109.4h0M657 107.2h0M657 105.9h0M657.1 106.8h0M657.1 110h0M657.1 109.9h0M657.1 106.5h0M657.2 104.8h0M657.2 112.9h0M657.2 104.4h0M657.2 104.1h0M657.2 113.3h0M657.3 102.6h0M657.3 108.5h0M657.3 100.7h0M657.3 109.6h0M657.3 105.4h0M657.3 103.3h0M657.3 105.2h0M657.3 111.7h0M657.4 108h0M657.4 102.1h0M657.4 100.1h0M657.4 106.4h0M657.4 99.3h0M657.4 100.2h0M657.4 104.8h0M657.4 114.3h0M657.5 103.5h0M657.5 103.1h0M657.5 108.8h0M657.5 101.3h0M657.5 95.8h0M657.5 97.5h0M657.6 100h0M657.6 101.2h0M657.6 102.7h0M657.6 104.6h0M657.7 96.3h0M657.7 94.3h0M657.7 97.8h0M657.7 103.7h0M657.7 106.9h0M657.7 103.9h0M657.7 101.9h0M657.7 108.1h0M657.7 107.6h0M657.7 101.8h0M657.8 91h0M657.8 99.1h0M657.8 96.7h0M657.8 96.6h0M657.8 98.4h0M657.9 89.9h0M657.9 93.1h0M657.9 97.3h0M657.9 92.5h0M658 88.1h0M658 93.7h0M658 97h0M658 100.9h0M658 98.1h0M658 95.5h0M658 88.8h0M658 92.8h0M658.1 94h0M658.1 100.4h0M658.1 90.9h0M658.1 97.4h0M658.1 89.1h0M658.1 99.5h0M658.2 102.5h0M658.2 85.7h0M658.2 92.8h0M658.2 94.9h0M658.3 98.4h0M658.3 87.1h0M658.3 93.4h0M658.3 98.7h0M658.4 95.2h0M658.4 96.1h0M658.4 88.1h0M658.4 99.6h0M658.4 95.2h0M658.5 86.3h0M658.5 94.1h0M658.5 98.9h0M658.5 87.5h0M658.6 95.7h0M658.6 91.7h0M658.7 90.4h0M658.7 97.9h0M658.7 91.5h0M658.7 90.4h0M658.8 94.8h0M658.8 90h0M658.8 85.2h0M658.8 92.3h0M658.8 88.4h0M658.8 92.1h0M658.8 94.5h0M658.9 89h0M658.9 93.3h0M658.9 92h0M658.9 90.9h0M658.9 91.2h0M659 88.3h0M659 84.4h0M659.1 87h0M659.1 86.8h0M659.1 87.3h0M659.2 83.7h0M659.2 89.8h0M659.2 84.1h0M659.2 83.4h0M659.3 89.2h0M659.3 85.9h0M659.4 89.6h0M659.4 84.8h0M659.5 87.7h0M659.7 86.6h0M659.8 83.1h0M660.1 86.4h0M660.2 86.2h0M660.3 82.9h0M660.6 82.7h0M660.7 85.9h0M660.9 82.6h0M660.9 85.8h0M661.9 82.5h0M661.9 85.7h0M662.9 82.5h0M662.9 85.7h0M663.9 82.5h0M663.9 85.7h0M664.9 82.5h0M664.9 85.7h0M665.9 82.5h0M665.9 85.7h0M666.9 82.5h0M666.9 85.7h0M667.9 82.5h0M667.9 85.7h0M668.9 82.5h0M668.9 85.7h0M669.9 82.5h0M669.9 85.7h0M670.9 82.5h0M670.9 85.7h0M671.9 82.5h0M671.9 85.7h0M672.9 82.5h0M672.9 85.7h0M673.9 82.5h0M673.9 85.7h0M674.9 82.5h0M674.9 85.7h0M675.9 82.5h0M675.9 85.7h0M676.9 82.5h0M676.9 85.7h0M677.9 82.5h0M677.9 85.7h0M678.9 82.5h0M678.9 85.7h0M679.9 82.5h0M679.9 85.7h0M680.9 82.5h0M680.9 85.7h0M681.9 82.5h0M681.9 85.7h0M682.9 82.5h0M682.9 85.7h0M683.9 82.5h0M683.9 85.7h0M684.9 82.5h0M684.9 85.7h0M685.9 82.5h0M685.9 85.7h0M686.9 82.5h0M686.9 85.7h0M687.9 82.5h0M687.9 85.7h0M688.9 82.5h0M688.9 85.7h0M689.9 82.5h0M689.9 85.7h0M690.9 82.5h0M690.9 85.7h0M691.9 82.8h0M691.9 85.4h0M692.5 83.5h0M692.5 84.6h0M692.6 83.9h0M692.6 84.3h0"/>
<rect x="127.945" y="445.5" width="1.11" height="5"/>
<rect x="221.945" y="445.5" width="1.11" height="5"/>
<rect x="315.945" y="445.5" width="1.11" height="5"/>
<rect x="409.945" y="445.5" width="1.11" height="5"/>
<rect x="503.945" y="445.5" width="1.11" height="5"/>
<rect x="597.945" y="445.5" width="1.11" height="5"/>
<rect x="691.945" y="445.5" width="1.11" height="5"/>
<rect x="95.5" y="396.945" width="5" height="1.11"/>
<rect x="95.5" y="322.945" width="5" height="1.11"/>
<rect x="95.5" y="247.945" width="5" height="1.11"/>
<rect x="95.5" y="172.945" width="5" height="1.11"/>
<rect x="95.5" y="98.945" width="5" height="1.11"/>
<rect x="100.5" y="60.5" width="620" height="385" fill="none" stroke="#000" stroke-width="1.11"/>
<text class="title" x="410.2" y="51.67" text-anchor="middle" textLength="308.5" lengthAdjust="spacingAndGlyphs">TIC 0066602813, period 2.7641 days</text>
<text x="111.88 122.51 131.33 135.74" y="466.3">−0.6</text>
<text x="205.92 216.45 225.27 229.68" y="466.3">−0.4</text>
<text x="299.96 310.39 319.21 323.72" y="466.3">−0.2</text>
<text x="399.9 407.81 411.93" y="466.3">0.0</text>
<text x="493.89 501.7 505.92" y="466.3">0.2</text>
<text x="587.88 595.69 599.91" y="466.3">0.4</text>
<text x="681.92 689.63 694.15" y="466.3">0.6</text>
<text x="68.88 76.69 81.21" y="403.12">0.6</text>
<text x="69.03 76.64 81.06" y="327.61">0.7</text>
<text x="68.93 76.84 81.26" y="253.09">0.8</text>
<text x="68.88 76.69 81.21" y="178.58">0.9</text>
<text x="68.93 76.84 81.26" y="104.06">1.0</text>
<text x="389.95 397.41 406.21 414.71 421.64" y="484.9">Phase</text>
<text x="-325.05 -314.77 -305.89 -300.42 -286.91 -278.41 -274.56 -270.7 -263.42 -254.78 -246.08 -241.66 -233.3 -222.61 -212.92 -208.32 -203.54 -199.58 -190.78" y="58.55" transform="rotate(-90)">Normalized PDC flux</text>
</svg>
</body>
</html>
